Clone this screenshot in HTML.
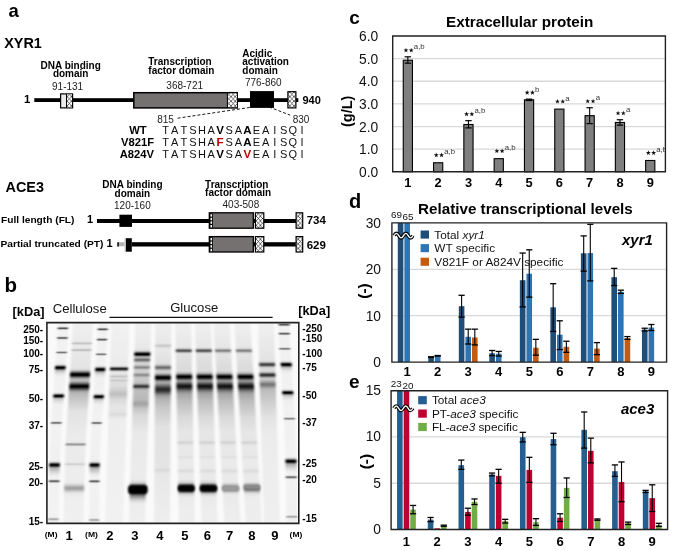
<!DOCTYPE html>
<html><head><meta charset="utf-8"><title>Figure</title>
<style>
html,body{margin:0;padding:0;background:#fff;}
body{width:685px;height:551px;overflow:hidden;}
svg{display:block;font-family:"Liberation Sans", sans-serif;will-change:transform;}
</style></head><body>
<svg width="685" height="551" viewBox="0 0 685 551">
<defs>
<clipPath id="cclip"><rect x="380" y="30" width="285" height="150"/></clipPath>
<clipPath id="gelclip"><rect x="46.9" y="322.6" width="251.9" height="200.8"/></clipPath>
<pattern id="hatch" width="4.2" height="4.6" patternUnits="userSpaceOnUse">
<rect width="4.2" height="4.6" fill="#fff"/>
<path d="M0 0L4.2 4.6M4.2 0L0 4.6" stroke="#1a1a1a" stroke-width="0.65"/>
</pattern>
<filter id="bx" x="-30%" y="0%" width="160%" height="100%"><feGaussianBlur stdDeviation="1.0 0.4"/></filter>
<filter id="b1" x="-50%" y="-100%" width="200%" height="300%"><feGaussianBlur stdDeviation="0.9"/></filter>
<filter id="b2" x="-50%" y="-100%" width="200%" height="300%"><feGaussianBlur stdDeviation="1.6"/></filter>
<filter id="b3" x="-50%" y="-100%" width="200%" height="300%"><feGaussianBlur stdDeviation="3"/></filter>
</defs>
<text x="8.5" y="17.2" font-size="18.5" font-weight="bold" font-style="normal" text-anchor="start" fill="#000" >a</text>
<text x="4.2" y="47.5" font-size="14.4" font-weight="bold" font-style="normal" text-anchor="start" fill="#000" >XYR1</text>
<text x="70.7" y="68.6" font-size="10" font-weight="bold" font-style="normal" text-anchor="middle" fill="#000" >DNA binding</text>
<text x="70.7" y="77.2" font-size="10" font-weight="bold" font-style="normal" text-anchor="middle" fill="#000" >domain</text>
<text x="67.6" y="89.8" font-size="10" font-weight="normal" font-style="normal" text-anchor="middle" fill="#222" >91-131</text>
<text x="148.3" y="64.9" font-size="10" font-weight="bold" font-style="normal" text-anchor="start" fill="#000" >Transcription</text>
<text x="148.3" y="73.5" font-size="10" font-weight="bold" font-style="normal" text-anchor="start" fill="#000" >factor domain</text>
<text x="184.7" y="88.5" font-size="10" font-weight="normal" font-style="normal" text-anchor="middle" fill="#222" >368-721</text>
<text x="242.3" y="56.5" font-size="10" font-weight="bold" font-style="normal" text-anchor="start" fill="#000" >Acidic</text>
<text x="242.3" y="65.1" font-size="10" font-weight="bold" font-style="normal" text-anchor="start" fill="#000" >activation</text>
<text x="242.3" y="73.6" font-size="10" font-weight="bold" font-style="normal" text-anchor="start" fill="#000" >domain</text>
<text x="263.3" y="86" font-size="10" font-weight="normal" font-style="normal" text-anchor="middle" fill="#222" >776-860</text>
<text x="24.0" y="103.0" font-size="11.4" font-weight="bold" font-style="normal" text-anchor="start" fill="#000" >1</text>
<rect x="34.3" y="98.2" width="264" height="3.8" fill="#000" stroke="none" stroke-width="0" />
<rect x="60.6" y="93.9" width="12" height="14" fill="#eaeaea" stroke="#000" stroke-width="1.2" />
<rect x="66.6" y="94.5" width="5.4" height="12.8" fill="url(#hatch)" stroke="none" stroke-width="0" />
<line x1="66.5" y1="93.9" x2="66.5" y2="107.9" stroke="#000" stroke-width="1" />
<rect x="133.8" y="92.7" width="103.4" height="15.2" fill="#757170" stroke="#000" stroke-width="1.5" />
<rect x="227.8" y="93.4" width="9.2" height="13.8" fill="url(#hatch)" stroke="none" stroke-width="0" />
<line x1="227.4" y1="92.7" x2="227.4" y2="107.9" stroke="#000" stroke-width="1" />
<rect x="250" y="91.1" width="24" height="16.8" fill="#000" stroke="none" stroke-width="0" />
<rect x="287.9" y="91.7" width="8" height="16.2" fill="url(#hatch)" stroke="#000" stroke-width="1.2" />
<text x="302.4" y="103.8" font-size="11" font-weight="bold" font-style="normal" text-anchor="start" fill="#000" >940</text>
<line x1="177.6" y1="118.2" x2="252.8" y2="107" stroke="#000" stroke-width="0.9" stroke-dasharray="3,2"/>
<line x1="269.1" y1="107" x2="290.2" y2="115.2" stroke="#000" stroke-width="0.9" stroke-dasharray="3,2"/>
<text x="165.5" y="123.4" font-size="10" font-weight="normal" font-style="normal" text-anchor="middle" fill="#222" >815</text>
<text x="301" y="123.4" font-size="10" font-weight="normal" font-style="normal" text-anchor="middle" fill="#222" >830</text>
<text x="138" y="134" font-size="11.2" font-weight="bold" font-style="normal" text-anchor="middle" fill="#000" >WT</text>
<text x="165.6" y="134" font-size="11" font-weight="normal" font-style="normal" text-anchor="middle" fill="#111" >T</text>
<text x="174.69" y="134" font-size="11" font-weight="normal" font-style="normal" text-anchor="middle" fill="#111" >A</text>
<text x="183.78" y="134" font-size="11" font-weight="normal" font-style="normal" text-anchor="middle" fill="#111" >T</text>
<text x="192.87" y="134" font-size="11" font-weight="normal" font-style="normal" text-anchor="middle" fill="#111" >S</text>
<text x="201.95999999999998" y="134" font-size="11" font-weight="normal" font-style="normal" text-anchor="middle" fill="#111" >H</text>
<text x="211.05" y="134" font-size="11" font-weight="normal" font-style="normal" text-anchor="middle" fill="#111" >A</text>
<text x="220.14" y="134" font-size="11.5" font-weight="bold" font-style="normal" text-anchor="middle" fill="#000" >V</text>
<text x="229.23" y="134" font-size="11" font-weight="normal" font-style="normal" text-anchor="middle" fill="#111" >S</text>
<text x="238.32" y="134" font-size="11" font-weight="normal" font-style="normal" text-anchor="middle" fill="#111" >A</text>
<text x="247.41" y="134" font-size="11.5" font-weight="bold" font-style="normal" text-anchor="middle" fill="#000" >A</text>
<text x="256.5" y="134" font-size="11" font-weight="normal" font-style="normal" text-anchor="middle" fill="#111" >E</text>
<text x="265.59" y="134" font-size="11" font-weight="normal" font-style="normal" text-anchor="middle" fill="#111" >A</text>
<text x="274.68" y="134" font-size="11" font-weight="normal" font-style="normal" text-anchor="middle" fill="#111" >I</text>
<text x="283.77" y="134" font-size="11" font-weight="normal" font-style="normal" text-anchor="middle" fill="#111" >S</text>
<text x="292.86" y="134" font-size="11" font-weight="normal" font-style="normal" text-anchor="middle" fill="#111" >Q</text>
<text x="301.95" y="134" font-size="11" font-weight="normal" font-style="normal" text-anchor="middle" fill="#111" >I</text>
<text x="154" y="145.9" font-size="11.2" font-weight="bold" font-style="normal" text-anchor="end" fill="#000" >V821F</text>
<text x="165.6" y="145.9" font-size="11" font-weight="normal" font-style="normal" text-anchor="middle" fill="#111" >T</text>
<text x="174.69" y="145.9" font-size="11" font-weight="normal" font-style="normal" text-anchor="middle" fill="#111" >A</text>
<text x="183.78" y="145.9" font-size="11" font-weight="normal" font-style="normal" text-anchor="middle" fill="#111" >T</text>
<text x="192.87" y="145.9" font-size="11" font-weight="normal" font-style="normal" text-anchor="middle" fill="#111" >S</text>
<text x="201.95999999999998" y="145.9" font-size="11" font-weight="normal" font-style="normal" text-anchor="middle" fill="#111" >H</text>
<text x="211.05" y="145.9" font-size="11" font-weight="normal" font-style="normal" text-anchor="middle" fill="#111" >A</text>
<text x="220.14" y="145.9" font-size="11.5" font-weight="bold" font-style="normal" text-anchor="middle" fill="#c00000" >F</text>
<text x="229.23" y="145.9" font-size="11" font-weight="normal" font-style="normal" text-anchor="middle" fill="#111" >S</text>
<text x="238.32" y="145.9" font-size="11" font-weight="normal" font-style="normal" text-anchor="middle" fill="#111" >A</text>
<text x="247.41" y="145.9" font-size="11.5" font-weight="bold" font-style="normal" text-anchor="middle" fill="#000" >A</text>
<text x="256.5" y="145.9" font-size="11" font-weight="normal" font-style="normal" text-anchor="middle" fill="#111" >E</text>
<text x="265.59" y="145.9" font-size="11" font-weight="normal" font-style="normal" text-anchor="middle" fill="#111" >A</text>
<text x="274.68" y="145.9" font-size="11" font-weight="normal" font-style="normal" text-anchor="middle" fill="#111" >I</text>
<text x="283.77" y="145.9" font-size="11" font-weight="normal" font-style="normal" text-anchor="middle" fill="#111" >S</text>
<text x="292.86" y="145.9" font-size="11" font-weight="normal" font-style="normal" text-anchor="middle" fill="#111" >Q</text>
<text x="301.95" y="145.9" font-size="11" font-weight="normal" font-style="normal" text-anchor="middle" fill="#111" >I</text>
<text x="154" y="157.6" font-size="11.2" font-weight="bold" font-style="normal" text-anchor="end" fill="#000" >A824V</text>
<text x="165.6" y="157.6" font-size="11" font-weight="normal" font-style="normal" text-anchor="middle" fill="#111" >T</text>
<text x="174.69" y="157.6" font-size="11" font-weight="normal" font-style="normal" text-anchor="middle" fill="#111" >A</text>
<text x="183.78" y="157.6" font-size="11" font-weight="normal" font-style="normal" text-anchor="middle" fill="#111" >T</text>
<text x="192.87" y="157.6" font-size="11" font-weight="normal" font-style="normal" text-anchor="middle" fill="#111" >S</text>
<text x="201.95999999999998" y="157.6" font-size="11" font-weight="normal" font-style="normal" text-anchor="middle" fill="#111" >H</text>
<text x="211.05" y="157.6" font-size="11" font-weight="normal" font-style="normal" text-anchor="middle" fill="#111" >A</text>
<text x="220.14" y="157.6" font-size="11.5" font-weight="bold" font-style="normal" text-anchor="middle" fill="#000" >V</text>
<text x="229.23" y="157.6" font-size="11" font-weight="normal" font-style="normal" text-anchor="middle" fill="#111" >S</text>
<text x="238.32" y="157.6" font-size="11" font-weight="normal" font-style="normal" text-anchor="middle" fill="#111" >A</text>
<text x="247.41" y="157.6" font-size="11.5" font-weight="bold" font-style="normal" text-anchor="middle" fill="#c00000" >V</text>
<text x="256.5" y="157.6" font-size="11" font-weight="normal" font-style="normal" text-anchor="middle" fill="#111" >E</text>
<text x="265.59" y="157.6" font-size="11" font-weight="normal" font-style="normal" text-anchor="middle" fill="#111" >A</text>
<text x="274.68" y="157.6" font-size="11" font-weight="normal" font-style="normal" text-anchor="middle" fill="#111" >I</text>
<text x="283.77" y="157.6" font-size="11" font-weight="normal" font-style="normal" text-anchor="middle" fill="#111" >S</text>
<text x="292.86" y="157.6" font-size="11" font-weight="normal" font-style="normal" text-anchor="middle" fill="#111" >Q</text>
<text x="301.95" y="157.6" font-size="11" font-weight="normal" font-style="normal" text-anchor="middle" fill="#111" >I</text>
<text x="5.5" y="192.0" font-size="14.4" font-weight="bold" font-style="normal" text-anchor="start" fill="#000" >ACE3</text>
<text x="132.4" y="188.4" font-size="10" font-weight="bold" font-style="normal" text-anchor="middle" fill="#000" >DNA binding</text>
<text x="132.4" y="197.2" font-size="10" font-weight="bold" font-style="normal" text-anchor="middle" fill="#000" >domain</text>
<text x="132.4" y="208.5" font-size="10" font-weight="normal" font-style="normal" text-anchor="middle" fill="#222" >120-160</text>
<text x="205.1" y="187.5" font-size="10" font-weight="bold" font-style="normal" text-anchor="start" fill="#000" >Transcription</text>
<text x="205.1" y="195.7" font-size="10" font-weight="bold" font-style="normal" text-anchor="start" fill="#000" >factor domain</text>
<text x="240.9" y="207.5" font-size="10" font-weight="normal" font-style="normal" text-anchor="middle" fill="#222" >403-508</text>
<text transform="translate(1.0,222.8) scale(1.05,1)" x="0" y="0" font-size="9.7" font-weight="bold" font-style="normal" text-anchor="start" fill="#000" >Full length (FL)</text>
<text transform="translate(0.5,247.2) scale(1.05,1)" x="0" y="0" font-size="9.7" font-weight="bold" font-style="normal" text-anchor="start" fill="#000" >Partial truncated (PT)</text>
<text x="87.0" y="223.0" font-size="11" font-weight="bold" font-style="normal" text-anchor="start" fill="#000" >1</text>
<text x="106.4" y="247.0" font-size="11" font-weight="bold" font-style="normal" text-anchor="start" fill="#000" >1</text>
<rect x="97" y="219" width="199" height="4" fill="#000" stroke="none" stroke-width="0" />
<rect x="119.4" y="214.7" width="12.6" height="12.2" fill="#000" stroke="none" stroke-width="0" />
<rect x="209.3" y="212.79999999999998" width="44" height="15.400000000000002" fill="#757170" stroke="#000" stroke-width="1.3" />
<rect x="209.8" y="213.39999999999998" width="3" height="14.200000000000001" fill="#000" stroke="none" stroke-width="0" />
<rect x="210.5" y="214.2" width="1.5" height="2.4" fill="#fff" stroke="none" stroke-width="0" />
<rect x="210.5" y="217.79999999999998" width="1.5" height="2.4" fill="#fff" stroke="none" stroke-width="0" />
<rect x="210.5" y="221.39999999999998" width="1.5" height="2.4" fill="#fff" stroke="none" stroke-width="0" />
<rect x="210.5" y="225.0" width="1.5" height="2.4" fill="#fff" stroke="none" stroke-width="0" />
<rect x="255.4" y="212.79999999999998" width="8.4" height="15.400000000000002" fill="url(#hatch)" stroke="#000" stroke-width="1.2" />
<rect x="296.1" y="212.79999999999998" width="6.6" height="15.400000000000002" fill="url(#hatch)" stroke="#000" stroke-width="1.2" />
<text x="306.7" y="223.7" font-size="11.5" font-weight="bold" font-style="normal" text-anchor="start" fill="#000" >734</text>
<rect x="131.8" y="242.2" width="164" height="4.3" fill="#000" stroke="none" stroke-width="0" />
<rect x="117.2" y="242.2" width="1.8" height="4.4" fill="#222" stroke="none" stroke-width="0" />
<rect x="119" y="242.2" width="5.5" height="4" fill="#b3b3b3" stroke="none" stroke-width="0" />
<rect x="124.5" y="238.2" width="1.4" height="13.5" fill="#c8c8c8" stroke="none" stroke-width="0" />
<rect x="125.9" y="238.2" width="5.9" height="13.5" fill="#000" stroke="none" stroke-width="0" />
<rect x="209.3" y="236.6" width="44" height="15.400000000000002" fill="#757170" stroke="#000" stroke-width="1.3" />
<rect x="209.8" y="237.2" width="3" height="14.200000000000001" fill="#000" stroke="none" stroke-width="0" />
<rect x="210.5" y="238.0" width="1.5" height="2.4" fill="#fff" stroke="none" stroke-width="0" />
<rect x="210.5" y="241.6" width="1.5" height="2.4" fill="#fff" stroke="none" stroke-width="0" />
<rect x="210.5" y="245.2" width="1.5" height="2.4" fill="#fff" stroke="none" stroke-width="0" />
<rect x="210.5" y="248.8" width="1.5" height="2.4" fill="#fff" stroke="none" stroke-width="0" />
<rect x="255.4" y="236.6" width="8.4" height="15.400000000000002" fill="url(#hatch)" stroke="#000" stroke-width="1.2" />
<rect x="296.1" y="236.6" width="6.6" height="15.400000000000002" fill="url(#hatch)" stroke="#000" stroke-width="1.2" />
<text x="306.7" y="248.5" font-size="11.5" font-weight="bold" font-style="normal" text-anchor="start" fill="#000" >629</text>
<defs><linearGradient id="gM1" gradientUnits="userSpaceOnUse" x1="0" y1="322" x2="0" y2="524"><stop offset="0.0000" stop-color="#f2f2f2"/><stop offset="0.0198" stop-color="#f0f0f0"/><stop offset="0.0223" stop-color="#e6e6e6"/><stop offset="0.0248" stop-color="#c8c8c8"/><stop offset="0.0297" stop-color="#606060"/><stop offset="0.0322" stop-color="#5a5a5a"/><stop offset="0.0347" stop-color="#878787"/><stop offset="0.0371" stop-color="#bfbfbf"/><stop offset="0.0396" stop-color="#e2e2e2"/><stop offset="0.0421" stop-color="#efefef"/><stop offset="0.0569" stop-color="#f2f2f2"/><stop offset="0.0668" stop-color="#f1f1f1"/><stop offset="0.0693" stop-color="#ececec"/><stop offset="0.0718" stop-color="#d9d9d9"/><stop offset="0.0743" stop-color="#b0b0b0"/><stop offset="0.0767" stop-color="#7b7b7b"/><stop offset="0.0792" stop-color="#616161"/><stop offset="0.0817" stop-color="#7b7b7b"/><stop offset="0.0842" stop-color="#b0b0b0"/><stop offset="0.0866" stop-color="#d9d9d9"/><stop offset="0.0891" stop-color="#ececec"/><stop offset="0.0941" stop-color="#f2f2f2"/><stop offset="0.1386" stop-color="#f2f2f2"/><stop offset="0.1411" stop-color="#efefef"/><stop offset="0.1436" stop-color="#e2e2e2"/><stop offset="0.1460" stop-color="#c1c1c1"/><stop offset="0.1485" stop-color="#919191"/><stop offset="0.1510" stop-color="#797979"/><stop offset="0.1535" stop-color="#919191"/><stop offset="0.1559" stop-color="#c1c1c1"/><stop offset="0.1584" stop-color="#e2e2e2"/><stop offset="0.1609" stop-color="#efefef"/><stop offset="0.1757" stop-color="#f2f2f2"/><stop offset="0.2030" stop-color="#f0f0f0"/><stop offset="0.2079" stop-color="#e6e6e6"/><stop offset="0.2104" stop-color="#d8d8d8"/><stop offset="0.2129" stop-color="#c0c0c0"/><stop offset="0.2153" stop-color="#9d9d9d"/><stop offset="0.2203" stop-color="#404040"/><stop offset="0.2228" stop-color="#181818"/><stop offset="0.2252" stop-color="#020202"/><stop offset="0.2277" stop-color="#040404"/><stop offset="0.2302" stop-color="#1d1d1d"/><stop offset="0.2376" stop-color="#8f8f8f"/><stop offset="0.2401" stop-color="#aaaaaa"/><stop offset="0.2426" stop-color="#bcbcbc"/><stop offset="0.2475" stop-color="#d1d1d1"/><stop offset="0.2599" stop-color="#e8e8e8"/><stop offset="0.2723" stop-color="#f1f1f1"/><stop offset="0.3441" stop-color="#f1f1f1"/><stop offset="0.3490" stop-color="#e7e7e7"/><stop offset="0.3515" stop-color="#d9d9d9"/><stop offset="0.3540" stop-color="#bfbfbf"/><stop offset="0.3564" stop-color="#999999"/><stop offset="0.3614" stop-color="#353535"/><stop offset="0.3639" stop-color="#0e0e0e"/><stop offset="0.3663" stop-color="#000000"/><stop offset="0.3688" stop-color="#0e0e0e"/><stop offset="0.3713" stop-color="#323232"/><stop offset="0.3762" stop-color="#8a8a8a"/><stop offset="0.3787" stop-color="#ababab"/><stop offset="0.3812" stop-color="#c0c0c0"/><stop offset="0.3837" stop-color="#cdcdcd"/><stop offset="0.3936" stop-color="#e1e1e1"/><stop offset="0.4084" stop-color="#f0f0f0"/><stop offset="0.4876" stop-color="#f1f1f1"/><stop offset="0.4901" stop-color="#ebebeb"/><stop offset="0.4926" stop-color="#d6d6d6"/><stop offset="0.4975" stop-color="#7d7d7d"/><stop offset="0.5000" stop-color="#6e6e6e"/><stop offset="0.5025" stop-color="#8e8e8e"/><stop offset="0.5050" stop-color="#bfbfbf"/><stop offset="0.5074" stop-color="#e0e0e0"/><stop offset="0.5099" stop-color="#eeeeee"/><stop offset="0.5149" stop-color="#f2f2f2"/><stop offset="0.6832" stop-color="#f0f0f0"/><stop offset="0.6881" stop-color="#e7e7e7"/><stop offset="0.6906" stop-color="#dadada"/><stop offset="0.6931" stop-color="#c6c6c6"/><stop offset="0.6955" stop-color="#a8a8a8"/><stop offset="0.7030" stop-color="#292929"/><stop offset="0.7054" stop-color="#0b0b0b"/><stop offset="0.7079" stop-color="#000000"/><stop offset="0.7104" stop-color="#0a0a0a"/><stop offset="0.7129" stop-color="#262626"/><stop offset="0.7178" stop-color="#6e6e6e"/><stop offset="0.7203" stop-color="#8d8d8d"/><stop offset="0.7228" stop-color="#a3a3a3"/><stop offset="0.7252" stop-color="#b1b1b1"/><stop offset="0.7327" stop-color="#c3c3c3"/><stop offset="0.7525" stop-color="#e6e6e6"/><stop offset="0.7673" stop-color="#f1f1f1"/><stop offset="0.7748" stop-color="#f1f1f1"/><stop offset="0.7772" stop-color="#ebebeb"/><stop offset="0.7797" stop-color="#dadada"/><stop offset="0.7822" stop-color="#b7b7b7"/><stop offset="0.7847" stop-color="#878787"/><stop offset="0.7871" stop-color="#656565"/><stop offset="0.7896" stop-color="#696969"/><stop offset="0.7921" stop-color="#909090"/><stop offset="0.7946" stop-color="#bfbfbf"/><stop offset="0.7970" stop-color="#dfdfdf"/><stop offset="0.7995" stop-color="#ededed"/><stop offset="0.8069" stop-color="#f2f2f2"/><stop offset="0.9629" stop-color="#f2f2f2"/><stop offset="0.9653" stop-color="#efefef"/><stop offset="0.9678" stop-color="#e6e6e6"/><stop offset="0.9703" stop-color="#d5d5d5"/><stop offset="0.9728" stop-color="#bdbdbd"/><stop offset="0.9752" stop-color="#acacac"/><stop offset="0.9777" stop-color="#aeaeae"/><stop offset="0.9827" stop-color="#d9d9d9"/><stop offset="0.9851" stop-color="#e9e9e9"/><stop offset="0.9901" stop-color="#f2f2f2"/><stop offset="1.0000" stop-color="#f2f2f2"/></linearGradient><linearGradient id="gM2" gradientUnits="userSpaceOnUse" x1="0" y1="322" x2="0" y2="524"><stop offset="0.0000" stop-color="#f2f2f2"/><stop offset="0.0248" stop-color="#f0f0f0"/><stop offset="0.0272" stop-color="#e6e6e6"/><stop offset="0.0297" stop-color="#c8c8c8"/><stop offset="0.0347" stop-color="#606060"/><stop offset="0.0371" stop-color="#5a5a5a"/><stop offset="0.0396" stop-color="#878787"/><stop offset="0.0421" stop-color="#bfbfbf"/><stop offset="0.0446" stop-color="#e2e2e2"/><stop offset="0.0470" stop-color="#efefef"/><stop offset="0.0619" stop-color="#f2f2f2"/><stop offset="0.0743" stop-color="#f2f2f2"/><stop offset="0.0767" stop-color="#eeeeee"/><stop offset="0.0792" stop-color="#dfdfdf"/><stop offset="0.0817" stop-color="#bababa"/><stop offset="0.0842" stop-color="#858585"/><stop offset="0.0866" stop-color="#626262"/><stop offset="0.0891" stop-color="#727272"/><stop offset="0.0941" stop-color="#d3d3d3"/><stop offset="0.0965" stop-color="#eaeaea"/><stop offset="0.0990" stop-color="#f1f1f1"/><stop offset="0.1485" stop-color="#f1f1f1"/><stop offset="0.1510" stop-color="#ececec"/><stop offset="0.1535" stop-color="#d8d8d8"/><stop offset="0.1584" stop-color="#838383"/><stop offset="0.1609" stop-color="#7d7d7d"/><stop offset="0.1634" stop-color="#a4a4a4"/><stop offset="0.1658" stop-color="#d1d1d1"/><stop offset="0.1683" stop-color="#e9e9e9"/><stop offset="0.1708" stop-color="#f1f1f1"/><stop offset="0.2104" stop-color="#f1f1f1"/><stop offset="0.2153" stop-color="#eaeaea"/><stop offset="0.2178" stop-color="#e1e1e1"/><stop offset="0.2203" stop-color="#cfcfcf"/><stop offset="0.2228" stop-color="#b2b2b2"/><stop offset="0.2252" stop-color="#8b8b8b"/><stop offset="0.2302" stop-color="#2e2e2e"/><stop offset="0.2327" stop-color="#0c0c0c"/><stop offset="0.2351" stop-color="#000000"/><stop offset="0.2376" stop-color="#0c0c0c"/><stop offset="0.2401" stop-color="#2a2a2a"/><stop offset="0.2450" stop-color="#7a7a7a"/><stop offset="0.2475" stop-color="#9b9b9b"/><stop offset="0.2500" stop-color="#b3b3b3"/><stop offset="0.2550" stop-color="#cecece"/><stop offset="0.2649" stop-color="#e5e5e5"/><stop offset="0.2772" stop-color="#f0f0f0"/><stop offset="0.3465" stop-color="#f1f1f1"/><stop offset="0.3515" stop-color="#eaeaea"/><stop offset="0.3540" stop-color="#dfdfdf"/><stop offset="0.3564" stop-color="#cbcbcb"/><stop offset="0.3589" stop-color="#a9a9a9"/><stop offset="0.3663" stop-color="#1b1b1b"/><stop offset="0.3688" stop-color="#020202"/><stop offset="0.3713" stop-color="#050505"/><stop offset="0.3738" stop-color="#212121"/><stop offset="0.3787" stop-color="#797979"/><stop offset="0.3812" stop-color="#9e9e9e"/><stop offset="0.3837" stop-color="#b9b9b9"/><stop offset="0.3861" stop-color="#c9c9c9"/><stop offset="0.3936" stop-color="#dddddd"/><stop offset="0.4084" stop-color="#efefef"/><stop offset="0.4530" stop-color="#f2f2f2"/><stop offset="0.4876" stop-color="#f1f1f1"/><stop offset="0.4901" stop-color="#ededed"/><stop offset="0.4926" stop-color="#dcdcdc"/><stop offset="0.4950" stop-color="#b5b5b5"/><stop offset="0.4975" stop-color="#858585"/><stop offset="0.5000" stop-color="#6d6d6d"/><stop offset="0.5025" stop-color="#858585"/><stop offset="0.5050" stop-color="#b5b5b5"/><stop offset="0.5074" stop-color="#dcdcdc"/><stop offset="0.5099" stop-color="#ededed"/><stop offset="0.5173" stop-color="#f2f2f2"/><stop offset="0.6832" stop-color="#f0f0f0"/><stop offset="0.6881" stop-color="#e8e8e8"/><stop offset="0.6906" stop-color="#dddddd"/><stop offset="0.6931" stop-color="#cbcbcb"/><stop offset="0.6955" stop-color="#aeaeae"/><stop offset="0.6980" stop-color="#888888"/><stop offset="0.7030" stop-color="#303030"/><stop offset="0.7054" stop-color="#0f0f0f"/><stop offset="0.7079" stop-color="#000000"/><stop offset="0.7104" stop-color="#070707"/><stop offset="0.7129" stop-color="#1f1f1f"/><stop offset="0.7178" stop-color="#676767"/><stop offset="0.7203" stop-color="#878787"/><stop offset="0.7228" stop-color="#9f9f9f"/><stop offset="0.7277" stop-color="#b8b8b8"/><stop offset="0.7525" stop-color="#e6e6e6"/><stop offset="0.7673" stop-color="#f1f1f1"/><stop offset="0.7748" stop-color="#f1f1f1"/><stop offset="0.7772" stop-color="#ededed"/><stop offset="0.7797" stop-color="#dfdfdf"/><stop offset="0.7822" stop-color="#bfbfbf"/><stop offset="0.7847" stop-color="#909090"/><stop offset="0.7871" stop-color="#696969"/><stop offset="0.7896" stop-color="#656565"/><stop offset="0.7921" stop-color="#878787"/><stop offset="0.7946" stop-color="#b7b7b7"/><stop offset="0.7970" stop-color="#dadada"/><stop offset="0.7995" stop-color="#ebebeb"/><stop offset="0.8045" stop-color="#f2f2f2"/><stop offset="0.9678" stop-color="#f1f1f1"/><stop offset="0.9703" stop-color="#ececec"/><stop offset="0.9728" stop-color="#e0e0e0"/><stop offset="0.9777" stop-color="#b4b4b4"/><stop offset="0.9802" stop-color="#aaaaaa"/><stop offset="0.9827" stop-color="#b4b4b4"/><stop offset="0.9876" stop-color="#e0e0e0"/><stop offset="0.9901" stop-color="#ececec"/><stop offset="0.9950" stop-color="#f2f2f2"/><stop offset="1.0000" stop-color="#f2f2f2"/></linearGradient><linearGradient id="gM3" gradientUnits="userSpaceOnUse" x1="0" y1="322" x2="0" y2="524"><stop offset="0.0000" stop-color="#f2f2f2"/><stop offset="0.0025" stop-color="#efefef"/><stop offset="0.0050" stop-color="#e2e2e2"/><stop offset="0.0074" stop-color="#bfbfbf"/><stop offset="0.0099" stop-color="#878787"/><stop offset="0.0124" stop-color="#5a5a5a"/><stop offset="0.0149" stop-color="#606060"/><stop offset="0.0198" stop-color="#c8c8c8"/><stop offset="0.0223" stop-color="#e6e6e6"/><stop offset="0.0248" stop-color="#f0f0f0"/><stop offset="0.0446" stop-color="#f2f2f2"/><stop offset="0.0470" stop-color="#efefef"/><stop offset="0.0495" stop-color="#e3e3e3"/><stop offset="0.0520" stop-color="#c3c3c3"/><stop offset="0.0545" stop-color="#8f8f8f"/><stop offset="0.0569" stop-color="#656565"/><stop offset="0.0594" stop-color="#6b6b6b"/><stop offset="0.0644" stop-color="#cccccc"/><stop offset="0.0668" stop-color="#e7e7e7"/><stop offset="0.0693" stop-color="#f0f0f0"/><stop offset="0.1213" stop-color="#f1f1f1"/><stop offset="0.1238" stop-color="#ececec"/><stop offset="0.1262" stop-color="#d8d8d8"/><stop offset="0.1312" stop-color="#838383"/><stop offset="0.1337" stop-color="#7d7d7d"/><stop offset="0.1361" stop-color="#a4a4a4"/><stop offset="0.1386" stop-color="#d1d1d1"/><stop offset="0.1411" stop-color="#e9e9e9"/><stop offset="0.1436" stop-color="#f1f1f1"/><stop offset="0.1881" stop-color="#f0f0f0"/><stop offset="0.1931" stop-color="#e3e3e3"/><stop offset="0.1955" stop-color="#d3d3d3"/><stop offset="0.1980" stop-color="#b9b9b9"/><stop offset="0.2005" stop-color="#939393"/><stop offset="0.2054" stop-color="#363636"/><stop offset="0.2079" stop-color="#111111"/><stop offset="0.2104" stop-color="#000000"/><stop offset="0.2129" stop-color="#080808"/><stop offset="0.2153" stop-color="#232323"/><stop offset="0.2203" stop-color="#727272"/><stop offset="0.2228" stop-color="#959595"/><stop offset="0.2252" stop-color="#afafaf"/><stop offset="0.2277" stop-color="#c1c1c1"/><stop offset="0.2327" stop-color="#d5d5d5"/><stop offset="0.2426" stop-color="#e8e8e8"/><stop offset="0.2550" stop-color="#f1f1f1"/><stop offset="0.3267" stop-color="#f1f1f1"/><stop offset="0.3317" stop-color="#eaeaea"/><stop offset="0.3342" stop-color="#dfdfdf"/><stop offset="0.3366" stop-color="#cbcbcb"/><stop offset="0.3391" stop-color="#a9a9a9"/><stop offset="0.3465" stop-color="#1b1b1b"/><stop offset="0.3490" stop-color="#020202"/><stop offset="0.3515" stop-color="#050505"/><stop offset="0.3540" stop-color="#212121"/><stop offset="0.3589" stop-color="#797979"/><stop offset="0.3614" stop-color="#9e9e9e"/><stop offset="0.3639" stop-color="#b9b9b9"/><stop offset="0.3663" stop-color="#c9c9c9"/><stop offset="0.3738" stop-color="#dddddd"/><stop offset="0.3886" stop-color="#efefef"/><stop offset="0.4332" stop-color="#f2f2f2"/><stop offset="0.4678" stop-color="#f0f0f0"/><stop offset="0.4703" stop-color="#e7e7e7"/><stop offset="0.4728" stop-color="#cfcfcf"/><stop offset="0.4752" stop-color="#a8a8a8"/><stop offset="0.4777" stop-color="#898989"/><stop offset="0.4802" stop-color="#8d8d8d"/><stop offset="0.4851" stop-color="#d5d5d5"/><stop offset="0.4876" stop-color="#eaeaea"/><stop offset="0.4901" stop-color="#f1f1f1"/><stop offset="0.6634" stop-color="#f1f1f1"/><stop offset="0.6683" stop-color="#ebebeb"/><stop offset="0.6708" stop-color="#e2e2e2"/><stop offset="0.6733" stop-color="#d3d3d3"/><stop offset="0.6757" stop-color="#bababa"/><stop offset="0.6782" stop-color="#989898"/><stop offset="0.6832" stop-color="#414141"/><stop offset="0.6856" stop-color="#1b1b1b"/><stop offset="0.6881" stop-color="#040404"/><stop offset="0.6906" stop-color="#020202"/><stop offset="0.6931" stop-color="#131313"/><stop offset="0.7005" stop-color="#7a7a7a"/><stop offset="0.7030" stop-color="#959595"/><stop offset="0.7054" stop-color="#a8a8a8"/><stop offset="0.7079" stop-color="#b5b5b5"/><stop offset="0.7277" stop-color="#dfdfdf"/><stop offset="0.7426" stop-color="#efefef"/><stop offset="0.7550" stop-color="#f1f1f1"/><stop offset="0.7574" stop-color="#ececec"/><stop offset="0.7599" stop-color="#dcdcdc"/><stop offset="0.7624" stop-color="#bcbcbc"/><stop offset="0.7649" stop-color="#909090"/><stop offset="0.7673" stop-color="#707070"/><stop offset="0.7698" stop-color="#747474"/><stop offset="0.7723" stop-color="#999999"/><stop offset="0.7748" stop-color="#c4c4c4"/><stop offset="0.7772" stop-color="#e0e0e0"/><stop offset="0.7797" stop-color="#ededed"/><stop offset="0.7871" stop-color="#f2f2f2"/><stop offset="0.9530" stop-color="#f0f0f0"/><stop offset="0.9554" stop-color="#e9e9e9"/><stop offset="0.9579" stop-color="#d9d9d9"/><stop offset="0.9629" stop-color="#aeaeae"/><stop offset="0.9653" stop-color="#acacac"/><stop offset="0.9678" stop-color="#bdbdbd"/><stop offset="0.9703" stop-color="#d5d5d5"/><stop offset="0.9728" stop-color="#e6e6e6"/><stop offset="0.9752" stop-color="#efefef"/><stop offset="0.9901" stop-color="#f2f2f2"/><stop offset="1.0000" stop-color="#f2f2f2"/></linearGradient><linearGradient id="g1" gradientUnits="userSpaceOnUse" x1="0" y1="322" x2="0" y2="524"><stop offset="0.0000" stop-color="#f0f0f0"/><stop offset="0.0941" stop-color="#eaeaea"/><stop offset="0.0990" stop-color="#dfdfdf"/><stop offset="0.1040" stop-color="#c9c9c9"/><stop offset="0.1064" stop-color="#c5c5c5"/><stop offset="0.1114" stop-color="#d8d8d8"/><stop offset="0.1163" stop-color="#e8e8e8"/><stop offset="0.1262" stop-color="#e9e9e9"/><stop offset="0.1312" stop-color="#e1e1e1"/><stop offset="0.1361" stop-color="#c8c8c8"/><stop offset="0.1386" stop-color="#c0c0c0"/><stop offset="0.1411" stop-color="#c3c3c3"/><stop offset="0.1460" stop-color="#dddddd"/><stop offset="0.1510" stop-color="#e8e8e8"/><stop offset="0.2277" stop-color="#e4e4e4"/><stop offset="0.2351" stop-color="#d6d6d6"/><stop offset="0.2376" stop-color="#cccccc"/><stop offset="0.2426" stop-color="#a8a8a8"/><stop offset="0.2475" stop-color="#717171"/><stop offset="0.2525" stop-color="#343434"/><stop offset="0.2550" stop-color="#1a1a1a"/><stop offset="0.2574" stop-color="#080808"/><stop offset="0.2599" stop-color="#000000"/><stop offset="0.2624" stop-color="#040404"/><stop offset="0.2649" stop-color="#111111"/><stop offset="0.2673" stop-color="#272727"/><stop offset="0.2748" stop-color="#7a7a7a"/><stop offset="0.2772" stop-color="#929292"/><stop offset="0.2822" stop-color="#b1b1b1"/><stop offset="0.2871" stop-color="#bcbcbc"/><stop offset="0.2921" stop-color="#b5b5b5"/><stop offset="0.2970" stop-color="#9e9e9e"/><stop offset="0.3020" stop-color="#797979"/><stop offset="0.3119" stop-color="#212121"/><stop offset="0.3144" stop-color="#111111"/><stop offset="0.3168" stop-color="#080808"/><stop offset="0.3193" stop-color="#060606"/><stop offset="0.3218" stop-color="#0b0b0b"/><stop offset="0.3243" stop-color="#161616"/><stop offset="0.3317" stop-color="#4f4f4f"/><stop offset="0.3391" stop-color="#878787"/><stop offset="0.3441" stop-color="#a1a1a1"/><stop offset="0.3515" stop-color="#b4b4b4"/><stop offset="0.3663" stop-color="#bfbfbf"/><stop offset="0.4406" stop-color="#e2e2e2"/><stop offset="0.5668" stop-color="#ebebeb"/><stop offset="0.5916" stop-color="#eaeaea"/><stop offset="0.5941" stop-color="#e7e7e7"/><stop offset="0.5965" stop-color="#dedede"/><stop offset="0.5990" stop-color="#cdcdcd"/><stop offset="0.6040" stop-color="#a0a0a0"/><stop offset="0.6064" stop-color="#9a9a9a"/><stop offset="0.6089" stop-color="#a7a7a7"/><stop offset="0.6139" stop-color="#d5d5d5"/><stop offset="0.6163" stop-color="#e3e3e3"/><stop offset="0.6213" stop-color="#ebebeb"/><stop offset="0.6931" stop-color="#ebebeb"/><stop offset="0.6980" stop-color="#e1e1e1"/><stop offset="0.7030" stop-color="#d1d1d1"/><stop offset="0.7054" stop-color="#d2d2d2"/><stop offset="0.7129" stop-color="#e9e9e9"/><stop offset="0.7252" stop-color="#ededed"/><stop offset="0.7896" stop-color="#ececec"/><stop offset="0.7995" stop-color="#e3e3e3"/><stop offset="0.8094" stop-color="#c6c6c6"/><stop offset="0.8193" stop-color="#a5a5a5"/><stop offset="0.8243" stop-color="#a3a3a3"/><stop offset="0.8292" stop-color="#acacac"/><stop offset="0.8416" stop-color="#d9d9d9"/><stop offset="0.8515" stop-color="#eaeaea"/><stop offset="0.8762" stop-color="#efefef"/><stop offset="1.0000" stop-color="#f0f0f0"/></linearGradient><linearGradient id="g2" gradientUnits="userSpaceOnUse" x1="0" y1="322" x2="0" y2="524"><stop offset="0.0000" stop-color="#f2f2f2"/><stop offset="0.2104" stop-color="#ebebeb"/><stop offset="0.2153" stop-color="#e5e5e5"/><stop offset="0.2178" stop-color="#dbdbdb"/><stop offset="0.2203" stop-color="#c7c7c7"/><stop offset="0.2228" stop-color="#a6a6a6"/><stop offset="0.2277" stop-color="#4e4e4e"/><stop offset="0.2302" stop-color="#2c2c2c"/><stop offset="0.2327" stop-color="#242424"/><stop offset="0.2351" stop-color="#373737"/><stop offset="0.2426" stop-color="#b4b4b4"/><stop offset="0.2450" stop-color="#cecece"/><stop offset="0.2475" stop-color="#dddddd"/><stop offset="0.2500" stop-color="#e5e5e5"/><stop offset="0.2574" stop-color="#e6e6e6"/><stop offset="0.2624" stop-color="#dcdcdc"/><stop offset="0.2673" stop-color="#cacaca"/><stop offset="0.2698" stop-color="#c7c7c7"/><stop offset="0.2772" stop-color="#dddddd"/><stop offset="0.2822" stop-color="#dcdcdc"/><stop offset="0.2896" stop-color="#cacaca"/><stop offset="0.2946" stop-color="#d3d3d3"/><stop offset="0.2995" stop-color="#dedede"/><stop offset="0.3144" stop-color="#dddddd"/><stop offset="0.3366" stop-color="#d0d0d0"/><stop offset="0.3515" stop-color="#c1c1c1"/><stop offset="0.3589" stop-color="#c1c1c1"/><stop offset="0.3837" stop-color="#dadada"/><stop offset="0.4183" stop-color="#e5e5e5"/><stop offset="0.4431" stop-color="#e4e4e4"/><stop offset="0.4579" stop-color="#dcdcdc"/><stop offset="0.4827" stop-color="#ededed"/><stop offset="1.0000" stop-color="#f2f2f2"/></linearGradient><linearGradient id="g3" gradientUnits="userSpaceOnUse" x1="0" y1="322" x2="0" y2="524"><stop offset="0.0000" stop-color="#f0f0f0"/><stop offset="0.1287" stop-color="#e8e8e8"/><stop offset="0.1386" stop-color="#dfdfdf"/><stop offset="0.1411" stop-color="#d6d6d6"/><stop offset="0.1436" stop-color="#c6c6c6"/><stop offset="0.1460" stop-color="#adadad"/><stop offset="0.1485" stop-color="#8b8b8b"/><stop offset="0.1535" stop-color="#383838"/><stop offset="0.1559" stop-color="#151515"/><stop offset="0.1584" stop-color="#020202"/><stop offset="0.1609" stop-color="#040404"/><stop offset="0.1634" stop-color="#1a1a1a"/><stop offset="0.1708" stop-color="#8c8c8c"/><stop offset="0.1733" stop-color="#a4a4a4"/><stop offset="0.1757" stop-color="#adadad"/><stop offset="0.1782" stop-color="#a7a7a7"/><stop offset="0.1832" stop-color="#818181"/><stop offset="0.1856" stop-color="#727272"/><stop offset="0.1881" stop-color="#6e6e6e"/><stop offset="0.1906" stop-color="#777777"/><stop offset="0.1980" stop-color="#b6b6b6"/><stop offset="0.2005" stop-color="#c6c6c6"/><stop offset="0.2054" stop-color="#d3d3d3"/><stop offset="0.2104" stop-color="#d0d0d0"/><stop offset="0.2129" stop-color="#c9c9c9"/><stop offset="0.2228" stop-color="#8e8e8e"/><stop offset="0.2252" stop-color="#8a8a8a"/><stop offset="0.2277" stop-color="#919191"/><stop offset="0.2351" stop-color="#bfbfbf"/><stop offset="0.2401" stop-color="#cdcdcd"/><stop offset="0.2450" stop-color="#cfcfcf"/><stop offset="0.2500" stop-color="#c6c6c6"/><stop offset="0.2550" stop-color="#afafaf"/><stop offset="0.2599" stop-color="#959595"/><stop offset="0.2624" stop-color="#909090"/><stop offset="0.2649" stop-color="#949494"/><stop offset="0.2748" stop-color="#c2c2c2"/><stop offset="0.2797" stop-color="#c9c9c9"/><stop offset="0.2970" stop-color="#c5c5c5"/><stop offset="0.3020" stop-color="#bcbcbc"/><stop offset="0.3069" stop-color="#9f9f9f"/><stop offset="0.3144" stop-color="#515151"/><stop offset="0.3168" stop-color="#3f3f3f"/><stop offset="0.3193" stop-color="#3b3b3b"/><stop offset="0.3218" stop-color="#454545"/><stop offset="0.3243" stop-color="#5a5a5a"/><stop offset="0.3292" stop-color="#8e8e8e"/><stop offset="0.3317" stop-color="#a3a3a3"/><stop offset="0.3366" stop-color="#b8b8b8"/><stop offset="0.3441" stop-color="#bebebe"/><stop offset="0.3837" stop-color="#b8b8b8"/><stop offset="0.4035" stop-color="#a3a3a3"/><stop offset="0.4134" stop-color="#adadad"/><stop offset="0.4282" stop-color="#c4c4c4"/><stop offset="0.4629" stop-color="#d9d9d9"/><stop offset="0.5495" stop-color="#e9e9e9"/><stop offset="0.7772" stop-color="#ebebeb"/><stop offset="0.7871" stop-color="#e1e1e1"/><stop offset="0.7946" stop-color="#cdcdcd"/><stop offset="0.7995" stop-color="#b6b6b6"/><stop offset="0.8069" stop-color="#828282"/><stop offset="0.8168" stop-color="#2f2f2f"/><stop offset="0.8218" stop-color="#101010"/><stop offset="0.8267" stop-color="#010101"/><stop offset="0.8317" stop-color="#040404"/><stop offset="0.8391" stop-color="#232323"/><stop offset="0.8490" stop-color="#575757"/><stop offset="0.8787" stop-color="#c8c8c8"/><stop offset="0.8886" stop-color="#dfdfdf"/><stop offset="0.9010" stop-color="#ececec"/><stop offset="1.0000" stop-color="#f0f0f0"/></linearGradient><linearGradient id="g4" gradientUnits="userSpaceOnUse" x1="0" y1="322" x2="0" y2="524"><stop offset="0.0000" stop-color="#eeeeee"/><stop offset="0.1040" stop-color="#e8e8e8"/><stop offset="0.1114" stop-color="#d7d7d7"/><stop offset="0.1163" stop-color="#cacaca"/><stop offset="0.1188" stop-color="#c9c9c9"/><stop offset="0.1287" stop-color="#e3e3e3"/><stop offset="0.1386" stop-color="#e8e8e8"/><stop offset="0.2030" stop-color="#dfdfdf"/><stop offset="0.2079" stop-color="#d7d7d7"/><stop offset="0.2129" stop-color="#c1c1c1"/><stop offset="0.2178" stop-color="#9b9b9b"/><stop offset="0.2228" stop-color="#767676"/><stop offset="0.2252" stop-color="#6f6f6f"/><stop offset="0.2277" stop-color="#727272"/><stop offset="0.2327" stop-color="#919191"/><stop offset="0.2376" stop-color="#b8b8b8"/><stop offset="0.2426" stop-color="#cdcdcd"/><stop offset="0.2475" stop-color="#cfcfcf"/><stop offset="0.2525" stop-color="#c2c2c2"/><stop offset="0.2574" stop-color="#a5a5a5"/><stop offset="0.2624" stop-color="#747474"/><stop offset="0.2698" stop-color="#1f1f1f"/><stop offset="0.2723" stop-color="#0b0b0b"/><stop offset="0.2748" stop-color="#010101"/><stop offset="0.2772" stop-color="#020202"/><stop offset="0.2797" stop-color="#0e0e0e"/><stop offset="0.2822" stop-color="#222222"/><stop offset="0.2896" stop-color="#707070"/><stop offset="0.2946" stop-color="#949494"/><stop offset="0.2995" stop-color="#a1a1a1"/><stop offset="0.3045" stop-color="#9c9c9c"/><stop offset="0.3119" stop-color="#808080"/><stop offset="0.3243" stop-color="#414141"/><stop offset="0.3292" stop-color="#303030"/><stop offset="0.3342" stop-color="#2a2a2a"/><stop offset="0.3391" stop-color="#313131"/><stop offset="0.3465" stop-color="#4b4b4b"/><stop offset="0.3589" stop-color="#858585"/><stop offset="0.3688" stop-color="#a3a3a3"/><stop offset="0.3837" stop-color="#b4b4b4"/><stop offset="0.4233" stop-color="#c7c7c7"/><stop offset="0.5173" stop-color="#e1e1e1"/><stop offset="0.7203" stop-color="#e4e4e4"/><stop offset="0.7327" stop-color="#d9d9d9"/><stop offset="0.7525" stop-color="#e7e7e7"/><stop offset="1.0000" stop-color="#eeeeee"/></linearGradient><linearGradient id="g5" gradientUnits="userSpaceOnUse" x1="0" y1="322" x2="0" y2="524"><stop offset="0.0000" stop-color="#f0f0f0"/><stop offset="0.1213" stop-color="#e7e7e7"/><stop offset="0.1262" stop-color="#e0e0e0"/><stop offset="0.1287" stop-color="#d6d6d6"/><stop offset="0.1312" stop-color="#c5c5c5"/><stop offset="0.1337" stop-color="#aaaaaa"/><stop offset="0.1386" stop-color="#6b6b6b"/><stop offset="0.1411" stop-color="#595959"/><stop offset="0.1436" stop-color="#5b5b5b"/><stop offset="0.1460" stop-color="#707070"/><stop offset="0.1510" stop-color="#aeaeae"/><stop offset="0.1535" stop-color="#c7c7c7"/><stop offset="0.1559" stop-color="#d6d6d6"/><stop offset="0.1609" stop-color="#e2e2e2"/><stop offset="0.2401" stop-color="#dadada"/><stop offset="0.2475" stop-color="#cdcdcd"/><stop offset="0.2525" stop-color="#b4b4b4"/><stop offset="0.2574" stop-color="#868686"/><stop offset="0.2649" stop-color="#2b2b2b"/><stop offset="0.2673" stop-color="#131313"/><stop offset="0.2698" stop-color="#040404"/><stop offset="0.2723" stop-color="#000000"/><stop offset="0.2748" stop-color="#080808"/><stop offset="0.2772" stop-color="#1a1a1a"/><stop offset="0.2847" stop-color="#666666"/><stop offset="0.2871" stop-color="#7a7a7a"/><stop offset="0.2896" stop-color="#878787"/><stop offset="0.2921" stop-color="#8c8c8c"/><stop offset="0.2946" stop-color="#8a8a8a"/><stop offset="0.2995" stop-color="#757575"/><stop offset="0.3119" stop-color="#272727"/><stop offset="0.3168" stop-color="#171717"/><stop offset="0.3218" stop-color="#191919"/><stop offset="0.3267" stop-color="#2a2a2a"/><stop offset="0.3391" stop-color="#6f6f6f"/><stop offset="0.3490" stop-color="#949494"/><stop offset="0.3589" stop-color="#a7a7a7"/><stop offset="0.3861" stop-color="#b9b9b9"/><stop offset="0.4728" stop-color="#dadada"/><stop offset="0.5470" stop-color="#e6e6e6"/><stop offset="0.5842" stop-color="#e5e5e5"/><stop offset="0.5965" stop-color="#d3d3d3"/><stop offset="0.6040" stop-color="#dddddd"/><stop offset="0.6139" stop-color="#e8e8e8"/><stop offset="0.6584" stop-color="#e8e8e8"/><stop offset="0.6683" stop-color="#e0e0e0"/><stop offset="0.6832" stop-color="#eaeaea"/><stop offset="0.7228" stop-color="#e9e9e9"/><stop offset="0.7376" stop-color="#dbdbdb"/><stop offset="0.7550" stop-color="#eaeaea"/><stop offset="0.7797" stop-color="#e8e8e8"/><stop offset="0.7896" stop-color="#d9d9d9"/><stop offset="0.7946" stop-color="#c7c7c7"/><stop offset="0.7995" stop-color="#aaaaaa"/><stop offset="0.8069" stop-color="#6b6b6b"/><stop offset="0.8144" stop-color="#272727"/><stop offset="0.8193" stop-color="#080808"/><stop offset="0.8218" stop-color="#010101"/><stop offset="0.8267" stop-color="#060606"/><stop offset="0.8317" stop-color="#232323"/><stop offset="0.8441" stop-color="#939393"/><stop offset="0.8490" stop-color="#b8b8b8"/><stop offset="0.8564" stop-color="#d9d9d9"/><stop offset="0.8663" stop-color="#e9e9e9"/><stop offset="0.9257" stop-color="#ededed"/><stop offset="1.0000" stop-color="#eeeeee"/></linearGradient><linearGradient id="g6" gradientUnits="userSpaceOnUse" x1="0" y1="322" x2="0" y2="524"><stop offset="0.0000" stop-color="#f0f0f0"/><stop offset="0.1213" stop-color="#e7e7e7"/><stop offset="0.1262" stop-color="#e0e0e0"/><stop offset="0.1287" stop-color="#d6d6d6"/><stop offset="0.1312" stop-color="#c5c5c5"/><stop offset="0.1337" stop-color="#aaaaaa"/><stop offset="0.1386" stop-color="#6b6b6b"/><stop offset="0.1411" stop-color="#595959"/><stop offset="0.1436" stop-color="#5b5b5b"/><stop offset="0.1460" stop-color="#707070"/><stop offset="0.1510" stop-color="#aeaeae"/><stop offset="0.1535" stop-color="#c7c7c7"/><stop offset="0.1559" stop-color="#d6d6d6"/><stop offset="0.1609" stop-color="#e2e2e2"/><stop offset="0.2401" stop-color="#dadada"/><stop offset="0.2475" stop-color="#cdcdcd"/><stop offset="0.2525" stop-color="#b4b4b4"/><stop offset="0.2574" stop-color="#868686"/><stop offset="0.2649" stop-color="#2b2b2b"/><stop offset="0.2673" stop-color="#131313"/><stop offset="0.2698" stop-color="#040404"/><stop offset="0.2723" stop-color="#000000"/><stop offset="0.2748" stop-color="#080808"/><stop offset="0.2772" stop-color="#1a1a1a"/><stop offset="0.2847" stop-color="#666666"/><stop offset="0.2871" stop-color="#7a7a7a"/><stop offset="0.2896" stop-color="#878787"/><stop offset="0.2921" stop-color="#8c8c8c"/><stop offset="0.2946" stop-color="#8a8a8a"/><stop offset="0.2995" stop-color="#757575"/><stop offset="0.3119" stop-color="#272727"/><stop offset="0.3168" stop-color="#171717"/><stop offset="0.3218" stop-color="#191919"/><stop offset="0.3267" stop-color="#2a2a2a"/><stop offset="0.3391" stop-color="#6f6f6f"/><stop offset="0.3490" stop-color="#949494"/><stop offset="0.3589" stop-color="#a7a7a7"/><stop offset="0.3861" stop-color="#b9b9b9"/><stop offset="0.4728" stop-color="#dadada"/><stop offset="0.5470" stop-color="#e6e6e6"/><stop offset="0.5842" stop-color="#e5e5e5"/><stop offset="0.5965" stop-color="#d3d3d3"/><stop offset="0.6040" stop-color="#dddddd"/><stop offset="0.6139" stop-color="#e8e8e8"/><stop offset="0.6584" stop-color="#e8e8e8"/><stop offset="0.6683" stop-color="#e0e0e0"/><stop offset="0.6832" stop-color="#eaeaea"/><stop offset="0.7228" stop-color="#e9e9e9"/><stop offset="0.7376" stop-color="#dbdbdb"/><stop offset="0.7550" stop-color="#eaeaea"/><stop offset="0.7797" stop-color="#e8e8e8"/><stop offset="0.7896" stop-color="#d9d9d9"/><stop offset="0.7946" stop-color="#c7c7c7"/><stop offset="0.7995" stop-color="#aaaaaa"/><stop offset="0.8069" stop-color="#6b6b6b"/><stop offset="0.8144" stop-color="#272727"/><stop offset="0.8193" stop-color="#080808"/><stop offset="0.8218" stop-color="#010101"/><stop offset="0.8267" stop-color="#060606"/><stop offset="0.8317" stop-color="#232323"/><stop offset="0.8441" stop-color="#939393"/><stop offset="0.8490" stop-color="#b8b8b8"/><stop offset="0.8564" stop-color="#d9d9d9"/><stop offset="0.8663" stop-color="#e9e9e9"/><stop offset="0.9257" stop-color="#ededed"/><stop offset="1.0000" stop-color="#eeeeee"/></linearGradient><linearGradient id="g7" gradientUnits="userSpaceOnUse" x1="0" y1="322" x2="0" y2="524"><stop offset="0.0000" stop-color="#f0f0f0"/><stop offset="0.1238" stop-color="#e6e6e6"/><stop offset="0.1287" stop-color="#dcdcdc"/><stop offset="0.1312" stop-color="#d0d0d0"/><stop offset="0.1386" stop-color="#929292"/><stop offset="0.1411" stop-color="#868686"/><stop offset="0.1436" stop-color="#888888"/><stop offset="0.1460" stop-color="#969696"/><stop offset="0.1510" stop-color="#c0c0c0"/><stop offset="0.1559" stop-color="#dbdbdb"/><stop offset="0.1634" stop-color="#e3e3e3"/><stop offset="0.2401" stop-color="#dadada"/><stop offset="0.2475" stop-color="#cdcdcd"/><stop offset="0.2525" stop-color="#b4b4b4"/><stop offset="0.2574" stop-color="#868686"/><stop offset="0.2649" stop-color="#2b2b2b"/><stop offset="0.2673" stop-color="#131313"/><stop offset="0.2698" stop-color="#040404"/><stop offset="0.2723" stop-color="#000000"/><stop offset="0.2748" stop-color="#080808"/><stop offset="0.2772" stop-color="#1a1a1a"/><stop offset="0.2847" stop-color="#666666"/><stop offset="0.2871" stop-color="#7a7a7a"/><stop offset="0.2896" stop-color="#878787"/><stop offset="0.2921" stop-color="#8c8c8c"/><stop offset="0.2946" stop-color="#8a8a8a"/><stop offset="0.2995" stop-color="#757575"/><stop offset="0.3119" stop-color="#272727"/><stop offset="0.3168" stop-color="#171717"/><stop offset="0.3218" stop-color="#191919"/><stop offset="0.3267" stop-color="#2a2a2a"/><stop offset="0.3391" stop-color="#6f6f6f"/><stop offset="0.3490" stop-color="#949494"/><stop offset="0.3589" stop-color="#a7a7a7"/><stop offset="0.3861" stop-color="#b9b9b9"/><stop offset="0.4728" stop-color="#dadada"/><stop offset="0.5470" stop-color="#e6e6e6"/><stop offset="0.5842" stop-color="#e5e5e5"/><stop offset="0.5965" stop-color="#d3d3d3"/><stop offset="0.6040" stop-color="#dddddd"/><stop offset="0.6139" stop-color="#e8e8e8"/><stop offset="0.6584" stop-color="#e8e8e8"/><stop offset="0.6683" stop-color="#e0e0e0"/><stop offset="0.6832" stop-color="#eaeaea"/><stop offset="0.7228" stop-color="#e9e9e9"/><stop offset="0.7376" stop-color="#dbdbdb"/><stop offset="0.7550" stop-color="#eaeaea"/><stop offset="0.7896" stop-color="#e9e9e9"/><stop offset="0.7970" stop-color="#dfdfdf"/><stop offset="0.8045" stop-color="#c7c7c7"/><stop offset="0.8168" stop-color="#858585"/><stop offset="0.8218" stop-color="#777777"/><stop offset="0.8267" stop-color="#7a7a7a"/><stop offset="0.8317" stop-color="#8e8e8e"/><stop offset="0.8416" stop-color="#c5c5c5"/><stop offset="0.8490" stop-color="#dfdfdf"/><stop offset="0.8589" stop-color="#eaeaea"/><stop offset="1.0000" stop-color="#eeeeee"/></linearGradient><linearGradient id="g8" gradientUnits="userSpaceOnUse" x1="0" y1="322" x2="0" y2="524"><stop offset="0.0000" stop-color="#f0f0f0"/><stop offset="0.1238" stop-color="#e6e6e6"/><stop offset="0.1287" stop-color="#dcdcdc"/><stop offset="0.1312" stop-color="#d0d0d0"/><stop offset="0.1386" stop-color="#929292"/><stop offset="0.1411" stop-color="#868686"/><stop offset="0.1436" stop-color="#888888"/><stop offset="0.1460" stop-color="#969696"/><stop offset="0.1510" stop-color="#c0c0c0"/><stop offset="0.1559" stop-color="#dbdbdb"/><stop offset="0.1634" stop-color="#e3e3e3"/><stop offset="0.2401" stop-color="#dadada"/><stop offset="0.2475" stop-color="#cdcdcd"/><stop offset="0.2525" stop-color="#b4b4b4"/><stop offset="0.2574" stop-color="#868686"/><stop offset="0.2649" stop-color="#2b2b2b"/><stop offset="0.2673" stop-color="#131313"/><stop offset="0.2698" stop-color="#040404"/><stop offset="0.2723" stop-color="#000000"/><stop offset="0.2748" stop-color="#080808"/><stop offset="0.2772" stop-color="#1a1a1a"/><stop offset="0.2847" stop-color="#666666"/><stop offset="0.2871" stop-color="#7a7a7a"/><stop offset="0.2896" stop-color="#878787"/><stop offset="0.2921" stop-color="#8c8c8c"/><stop offset="0.2946" stop-color="#8a8a8a"/><stop offset="0.2995" stop-color="#757575"/><stop offset="0.3119" stop-color="#272727"/><stop offset="0.3168" stop-color="#171717"/><stop offset="0.3218" stop-color="#191919"/><stop offset="0.3267" stop-color="#2a2a2a"/><stop offset="0.3391" stop-color="#6f6f6f"/><stop offset="0.3490" stop-color="#949494"/><stop offset="0.3589" stop-color="#a7a7a7"/><stop offset="0.3861" stop-color="#b9b9b9"/><stop offset="0.4728" stop-color="#dadada"/><stop offset="0.5470" stop-color="#e6e6e6"/><stop offset="0.5842" stop-color="#e5e5e5"/><stop offset="0.5965" stop-color="#d3d3d3"/><stop offset="0.6040" stop-color="#dddddd"/><stop offset="0.6139" stop-color="#e8e8e8"/><stop offset="0.6584" stop-color="#e8e8e8"/><stop offset="0.6683" stop-color="#e0e0e0"/><stop offset="0.6832" stop-color="#eaeaea"/><stop offset="0.7228" stop-color="#e9e9e9"/><stop offset="0.7376" stop-color="#dbdbdb"/><stop offset="0.7550" stop-color="#eaeaea"/><stop offset="0.7871" stop-color="#eaeaea"/><stop offset="0.7970" stop-color="#dddddd"/><stop offset="0.8045" stop-color="#bfbfbf"/><stop offset="0.8168" stop-color="#707070"/><stop offset="0.8218" stop-color="#5f5f5f"/><stop offset="0.8267" stop-color="#646464"/><stop offset="0.8317" stop-color="#7c7c7c"/><stop offset="0.8416" stop-color="#bdbdbd"/><stop offset="0.8465" stop-color="#d4d4d4"/><stop offset="0.8540" stop-color="#e6e6e6"/><stop offset="0.8688" stop-color="#ececec"/><stop offset="1.0000" stop-color="#eeeeee"/></linearGradient><linearGradient id="g9" gradientUnits="userSpaceOnUse" x1="0" y1="322" x2="0" y2="524"><stop offset="0.0000" stop-color="#f0f0f0"/><stop offset="0.1832" stop-color="#e4e4e4"/><stop offset="0.1906" stop-color="#dfdfdf"/><stop offset="0.1955" stop-color="#d0d0d0"/><stop offset="0.1980" stop-color="#bfbfbf"/><stop offset="0.2005" stop-color="#a7a7a7"/><stop offset="0.2054" stop-color="#696969"/><stop offset="0.2079" stop-color="#505050"/><stop offset="0.2104" stop-color="#444444"/><stop offset="0.2129" stop-color="#494949"/><stop offset="0.2153" stop-color="#5d5d5d"/><stop offset="0.2203" stop-color="#9a9a9a"/><stop offset="0.2228" stop-color="#b4b4b4"/><stop offset="0.2252" stop-color="#c8c8c8"/><stop offset="0.2277" stop-color="#d4d4d4"/><stop offset="0.2327" stop-color="#dddddd"/><stop offset="0.2401" stop-color="#dbdbdb"/><stop offset="0.2450" stop-color="#cdcdcd"/><stop offset="0.2475" stop-color="#bfbfbf"/><stop offset="0.2500" stop-color="#aaaaaa"/><stop offset="0.2574" stop-color="#535353"/><stop offset="0.2599" stop-color="#3e3e3e"/><stop offset="0.2624" stop-color="#363636"/><stop offset="0.2649" stop-color="#3d3d3d"/><stop offset="0.2673" stop-color="#525252"/><stop offset="0.2748" stop-color="#a4a4a4"/><stop offset="0.2772" stop-color="#b6b6b6"/><stop offset="0.2797" stop-color="#c0c0c0"/><stop offset="0.2847" stop-color="#c4c4c4"/><stop offset="0.2921" stop-color="#b2b2b2"/><stop offset="0.3045" stop-color="#808080"/><stop offset="0.3094" stop-color="#797979"/><stop offset="0.3144" stop-color="#7e7e7e"/><stop offset="0.3292" stop-color="#b0b0b0"/><stop offset="0.3391" stop-color="#bdbdbd"/><stop offset="0.4678" stop-color="#e2e2e2"/><stop offset="0.5569" stop-color="#ebebeb"/><stop offset="1.0000" stop-color="#f0f0f0"/></linearGradient></defs>
<text x="4.6" y="291.9" font-size="20.5" font-weight="bold" font-style="normal" text-anchor="start" fill="#000" >b</text>
<text transform="translate(12.6,315.5) scale(1.04,1)" x="0" y="0" font-size="12.3" font-weight="bold" font-style="normal" text-anchor="start" fill="#000" >[kDa]</text>
<text transform="translate(298.2,315.2) scale(1.04,1)" x="0" y="0" font-size="12.3" font-weight="bold" font-style="normal" text-anchor="start" fill="#000" >[kDa]</text>
<text transform="translate(79.7,312.5) scale(1.045,1)" x="0" y="0" font-size="12.6" font-weight="normal" font-style="normal" text-anchor="middle" fill="#111" >Cellulose</text>
<text transform="translate(194.2,312.0) scale(1.04,1)" x="0" y="0" font-size="12.6" font-weight="normal" font-style="normal" text-anchor="middle" fill="#111" >Glucose</text>
<line x1="109.5" y1="317.3" x2="272.6" y2="317.3" stroke="#111" stroke-width="1.3" />
<g clip-path="url(#gelclip)">
<rect x="46.5" y="322.5" width="252.5" height="201" fill="#fafafa" stroke="none" stroke-width="0" />
<path d="M57.9 322 L56.5 352 L55.0 368 L53.4 396 L51.0 423 L49.2 465 L48.0 524 L58.5 524 L59.8 465 L61.5 423 L63.9 396 L65.5 368 L67.0 352 L68.3 322 Z" fill="url(#gM1)" filter="url(#bx)"/>
<path d="M98.1 322 L95.2 370 L93.8 397 L91.7 423 L89.6 465 L89.2 524 L99.2 524 L99.6 465 L101.7 423 L103.8 397 L105.2 370 L108.1 322 Z" fill="url(#gM2)" filter="url(#bx)"/>
<path d="M278.5 322 L279.3 349 L280.8 365 L282.3 393 L284.0 419 L285.5 461 L286.5 524 L297.5 524 L296.5 461 L295.0 419 L293.3 393 L291.8 365 L290.3 349 L289.5 322 Z" fill="url(#gM3)" filter="url(#bx)"/>
<path d="M72.8 322 L71.9 343 L70.0 375 L65.6 444 L64.2 488 L63.5 524 L83.5 524 L84.2 488 L85.6 444 L90.0 375 L91.9 343 L92.8 322 Z" fill="url(#g1)" filter="url(#bx)"/>
<path d="M111.6 322 L110.0 369 L105.0 524 L123.0 524 L128.0 369 L129.6 322 Z" fill="url(#g2)" filter="url(#bx)"/>
<path d="M135.3 322 L134.3 354 L129.9 489 L129.0 524 L145.0 524 L145.9 489 L150.3 354 L151.3 322 Z" fill="url(#g3)" filter="url(#bx)"/>
<path d="M155.3 322 L154.0 524 L170.0 524 L171.3 322 Z" fill="url(#g4)" filter="url(#bx)"/>
<path d="M175.2 322 L176.2 377 L178.2 488 L178.8 524 L194.8 524 L194.2 488 L192.2 377 L191.2 322 Z" fill="url(#g5)" filter="url(#bx)"/>
<path d="M194.9 322 L196.7 377 L200.4 488 L201.6 524 L217.6 524 L216.4 488 L212.7 377 L210.9 322 Z" fill="url(#g6)" filter="url(#bx)"/>
<path d="M213.5 322 L216.5 377 L222.5 488 L224.4 524 L240.4 524 L238.5 488 L232.5 377 L229.5 322 Z" fill="url(#g7)" filter="url(#bx)"/>
<path d="M234.3 322 L237.5 377 L243.9 488 L246.0 524 L262.0 524 L259.9 488 L253.5 377 L250.3 322 Z" fill="url(#g8)" filter="url(#bx)"/>
<path d="M257.9 322 L259.3 370 L263.9 524 L279.9 524 L275.3 370 L273.9 322 Z" fill="url(#g9)" filter="url(#bx)"/>
<rect x="128.0" y="485.3" width="19.6" height="8.7" rx="3" fill="#000" filter="url(#b1)"/>
<rect x="178.0" y="485.3" width="16.6" height="6.3" rx="3" fill="#050505" filter="url(#b1)"/>
<rect x="199.8" y="485.3" width="17.4" height="6.3" rx="3" fill="#050505" filter="url(#b1)"/>
<rect x="221.8" y="485.8" width="17.6" height="5.2" rx="3" fill="#9a9a9a" filter="url(#b1)"/>
<rect x="243.6" y="484.6" width="16.8" height="5.0" rx="3" fill="#8a8a8a" filter="url(#b1)"/>
</g>
<path d="M46.9 322.6 H298.8 V523.4 H46.9 Z" fill="none" stroke="#222" stroke-width="1.6"/>
<text x="43.2" y="332.9" font-size="10" font-weight="bold" font-style="normal" text-anchor="end" fill="#000" >250-</text>
<text x="43.2" y="344" font-size="10" font-weight="bold" font-style="normal" text-anchor="end" fill="#000" >150-</text>
<text x="43.2" y="357.4" font-size="10" font-weight="bold" font-style="normal" text-anchor="end" fill="#000" >100-</text>
<text x="43.2" y="373.3" font-size="10" font-weight="bold" font-style="normal" text-anchor="end" fill="#000" >75-</text>
<text x="43.2" y="402.2" font-size="10" font-weight="bold" font-style="normal" text-anchor="end" fill="#000" >50-</text>
<text x="43.2" y="429" font-size="10" font-weight="bold" font-style="normal" text-anchor="end" fill="#000" >37-</text>
<text x="43.2" y="470.3" font-size="10" font-weight="bold" font-style="normal" text-anchor="end" fill="#000" >25-</text>
<text x="43.2" y="485.7" font-size="10" font-weight="bold" font-style="normal" text-anchor="end" fill="#000" >20-</text>
<text x="43.2" y="524.8" font-size="10" font-weight="bold" font-style="normal" text-anchor="end" fill="#000" >15-</text>
<text x="302.3" y="332.1" font-size="10" font-weight="bold" font-style="normal" text-anchor="start" fill="#000" >-250</text>
<text x="302.3" y="342.1" font-size="10" font-weight="bold" font-style="normal" text-anchor="start" fill="#000" >-150</text>
<text x="302.3" y="356.8" font-size="10" font-weight="bold" font-style="normal" text-anchor="start" fill="#000" >-100</text>
<text x="302.3" y="370.8" font-size="10" font-weight="bold" font-style="normal" text-anchor="start" fill="#000" >-75</text>
<text x="302.3" y="399.1" font-size="10" font-weight="bold" font-style="normal" text-anchor="start" fill="#000" >-50</text>
<text x="302.3" y="425.9" font-size="10" font-weight="bold" font-style="normal" text-anchor="start" fill="#000" >-37</text>
<text x="302.3" y="467.1" font-size="10" font-weight="bold" font-style="normal" text-anchor="start" fill="#000" >-25</text>
<text x="302.3" y="483" font-size="10" font-weight="bold" font-style="normal" text-anchor="start" fill="#000" >-20</text>
<text x="302.3" y="522.2" font-size="10" font-weight="bold" font-style="normal" text-anchor="start" fill="#000" >-15</text>
<text transform="translate(51.1,536.6) scale(1.22,1)" x="0" y="0" font-size="7.0" font-weight="bold" font-style="normal" text-anchor="middle" fill="#000" >(M)</text>
<text x="69" y="539.6" font-size="13" font-weight="bold" font-style="normal" text-anchor="middle" fill="#000" >1</text>
<text transform="translate(91.5,536.6) scale(1.22,1)" x="0" y="0" font-size="7.0" font-weight="bold" font-style="normal" text-anchor="middle" fill="#000" >(M)</text>
<text x="109.8" y="539.6" font-size="13" font-weight="bold" font-style="normal" text-anchor="middle" fill="#000" >2</text>
<text x="134.9" y="539.6" font-size="13" font-weight="bold" font-style="normal" text-anchor="middle" fill="#000" >3</text>
<text x="159.8" y="539.6" font-size="13" font-weight="bold" font-style="normal" text-anchor="middle" fill="#000" >4</text>
<text x="184.8" y="539.6" font-size="13" font-weight="bold" font-style="normal" text-anchor="middle" fill="#000" >5</text>
<text x="207.3" y="539.6" font-size="13" font-weight="bold" font-style="normal" text-anchor="middle" fill="#000" >6</text>
<text x="229.6" y="539.6" font-size="13" font-weight="bold" font-style="normal" text-anchor="middle" fill="#000" >7</text>
<text x="251.8" y="539.6" font-size="13" font-weight="bold" font-style="normal" text-anchor="middle" fill="#000" >8</text>
<text x="274.8" y="539.6" font-size="13" font-weight="bold" font-style="normal" text-anchor="middle" fill="#000" >9</text>
<text transform="translate(296,536.6) scale(1.22,1)" x="0" y="0" font-size="7.0" font-weight="bold" font-style="normal" text-anchor="middle" fill="#000" >(M)</text>
<text x="349.3" y="23.7" font-size="19" font-weight="bold" font-style="normal" text-anchor="start" fill="#000" >c</text>
<text transform="translate(519.7,26.7) scale(1.105,1)" x="0" y="0" font-size="13.8" font-weight="bold" font-style="normal" text-anchor="middle" fill="#000" >Extracellular protein</text>
<text x="378.3" y="176.8" font-size="13.8" font-weight="normal" font-style="normal" text-anchor="end" fill="#111" >0.0</text>
<line x1="392.7" y1="149.16666666666669" x2="665.4" y2="149.16666666666669" stroke="#d9d9d9" stroke-width="1.3" />
<text x="378.3" y="154.16666666666669" font-size="13.8" font-weight="normal" font-style="normal" text-anchor="end" fill="#111" >1.0</text>
<line x1="392.7" y1="126.53333333333333" x2="665.4" y2="126.53333333333333" stroke="#d9d9d9" stroke-width="1.3" />
<text x="378.3" y="131.53333333333333" font-size="13.8" font-weight="normal" font-style="normal" text-anchor="end" fill="#111" >2.0</text>
<line x1="392.7" y1="103.9" x2="665.4" y2="103.9" stroke="#d9d9d9" stroke-width="1.3" />
<text x="378.3" y="108.9" font-size="13.8" font-weight="normal" font-style="normal" text-anchor="end" fill="#111" >3.0</text>
<line x1="392.7" y1="81.26666666666667" x2="665.4" y2="81.26666666666667" stroke="#d9d9d9" stroke-width="1.3" />
<text x="378.3" y="86.26666666666667" font-size="13.8" font-weight="normal" font-style="normal" text-anchor="end" fill="#111" >4.0</text>
<line x1="392.7" y1="58.633333333333326" x2="665.4" y2="58.633333333333326" stroke="#d9d9d9" stroke-width="1.3" />
<text x="378.3" y="63.633333333333326" font-size="13.8" font-weight="normal" font-style="normal" text-anchor="end" fill="#111" >5.0</text>
<text x="378.3" y="41.0" font-size="13.8" font-weight="normal" font-style="normal" text-anchor="end" fill="#111" >6.0</text>
<text x="0" y="0" font-size="14.5" font-weight="bold" font-style="normal" text-anchor="middle" fill="#000" transform="translate(352.2,111.3) rotate(-90)">(g/L)</text>
<rect x="403.24999999999994" y="60.21766666666667" width="9.2" height="111.58233333333334" fill="#7f7f7f" stroke="#000" stroke-width="1.1" />
<line x1="407.84999999999997" y1="56.82266666666666" x2="407.84999999999997" y2="63.16" stroke="#000" stroke-width="1.1" />
<line x1="404.65" y1="56.82266666666666" x2="411.04999999999995" y2="56.82266666666666" stroke="#000" stroke-width="1.2" />
<line x1="404.65" y1="63.16" x2="411.04999999999995" y2="63.16" stroke="#000" stroke-width="1.2" />
<polygon points="405.95,47.77 406.57,49.47 408.38,49.53 406.95,50.65 407.45,52.39 405.95,51.37 404.45,52.39 404.95,50.65 403.52,49.53 405.33,49.47" fill="#111"/>
<polygon points="411.25,47.77 411.87,49.47 413.68,49.53 412.25,50.65 412.75,52.39 411.25,51.37 409.75,52.39 410.25,50.65 408.82,49.53 410.63,49.47" fill="#111"/>
<g clip-path="url(#cclip)">
<text x="413.84999999999997" y="49.422666666666665" font-size="7.8" font-weight="normal" font-style="normal" text-anchor="start" fill="#333" >a,b</text>
</g>
<text x="407.84999999999997" y="187.4" font-size="12.8" font-weight="bold" font-style="normal" text-anchor="middle" fill="#000" >1</text>
<rect x="433.54999999999995" y="162.74666666666667" width="9.2" height="9.053333333333342" fill="#7f7f7f" stroke="#000" stroke-width="1.1" />
<polygon points="436.25,152.60 436.87,154.30 438.68,154.36 437.25,155.47 437.75,157.21 436.25,156.20 434.75,157.21 435.25,155.47 433.82,154.36 435.63,154.30" fill="#111"/>
<polygon points="441.55,152.60 442.17,154.30 443.98,154.36 442.55,155.47 443.05,157.21 441.55,156.20 440.05,157.21 440.55,155.47 439.12,154.36 440.93,154.30" fill="#111"/>
<g clip-path="url(#cclip)">
<text x="444.15" y="154.24666666666667" font-size="7.8" font-weight="normal" font-style="normal" text-anchor="start" fill="#333" >a,b</text>
</g>
<text x="438.15" y="187.4" font-size="12.8" font-weight="bold" font-style="normal" text-anchor="middle" fill="#000" >2</text>
<rect x="463.84999999999997" y="124.49633333333334" width="9.2" height="47.30366666666667" fill="#7f7f7f" stroke="#000" stroke-width="1.1" />
<line x1="468.45" y1="120.64866666666668" x2="468.45" y2="127.89133333333334" stroke="#000" stroke-width="1.1" />
<line x1="465.25" y1="120.64866666666668" x2="471.65" y2="120.64866666666668" stroke="#000" stroke-width="1.2" />
<line x1="465.25" y1="127.89133333333334" x2="471.65" y2="127.89133333333334" stroke="#000" stroke-width="1.2" />
<polygon points="466.55,111.60 467.17,113.30 468.98,113.36 467.55,114.47 468.05,116.21 466.55,115.20 465.05,116.21 465.55,114.47 464.12,113.36 465.93,113.30" fill="#111"/>
<polygon points="471.85,111.60 472.47,113.30 474.28,113.36 472.85,114.47 473.35,116.21 471.85,115.20 470.35,116.21 470.85,114.47 469.42,113.36 471.23,113.30" fill="#111"/>
<g clip-path="url(#cclip)">
<text x="474.45" y="113.24866666666668" font-size="7.8" font-weight="normal" font-style="normal" text-anchor="start" fill="#333" >a,b</text>
</g>
<text x="468.45" y="187.4" font-size="12.8" font-weight="bold" font-style="normal" text-anchor="middle" fill="#000" >3</text>
<rect x="494.15" y="158.6726666666667" width="9.2" height="13.127333333333326" fill="#7f7f7f" stroke="#000" stroke-width="1.1" />
<polygon points="496.85,148.52 497.47,150.22 499.28,150.28 497.85,151.40 498.35,153.14 496.85,152.12 495.35,153.14 495.85,151.40 494.42,150.28 496.23,150.22" fill="#111"/>
<polygon points="502.15,148.52 502.77,150.22 504.58,150.28 503.15,151.40 503.65,153.14 502.15,152.12 500.65,153.14 501.15,151.40 499.72,150.28 501.53,150.22" fill="#111"/>
<g clip-path="url(#cclip)">
<text x="504.75" y="150.1726666666667" font-size="7.8" font-weight="normal" font-style="normal" text-anchor="start" fill="#333" >a,b</text>
</g>
<text x="498.75" y="187.4" font-size="12.8" font-weight="bold" font-style="normal" text-anchor="middle" fill="#000" >4</text>
<rect x="524.4499999999999" y="99.826" width="9.2" height="71.97400000000002" fill="#7f7f7f" stroke="#000" stroke-width="1.1" />
<line x1="529.05" y1="99.147" x2="529.05" y2="100.50500000000001" stroke="#000" stroke-width="1.1" />
<line x1="525.8499999999999" y1="99.147" x2="532.25" y2="99.147" stroke="#000" stroke-width="1.2" />
<line x1="525.8499999999999" y1="100.50500000000001" x2="532.25" y2="100.50500000000001" stroke="#000" stroke-width="1.2" />
<polygon points="527.15,90.10 527.77,91.80 529.58,91.86 528.15,92.97 528.65,94.71 527.15,93.70 525.65,94.71 526.15,92.97 524.72,91.86 526.53,91.80" fill="#111"/>
<polygon points="532.45,90.10 533.07,91.80 534.88,91.86 533.45,92.97 533.95,94.71 532.45,93.70 530.95,94.71 531.45,92.97 530.02,91.86 531.83,91.80" fill="#111"/>
<g clip-path="url(#cclip)">
<text x="535.05" y="91.747" font-size="7.8" font-weight="normal" font-style="normal" text-anchor="start" fill="#333" >b</text>
</g>
<text x="529.05" y="187.4" font-size="12.8" font-weight="bold" font-style="normal" text-anchor="middle" fill="#000" >5</text>
<rect x="554.7499999999999" y="109.10566666666668" width="9.2" height="62.69433333333333" fill="#7f7f7f" stroke="#000" stroke-width="1.1" />
<polygon points="557.45,98.96 558.07,100.66 559.88,100.72 558.45,101.83 558.95,103.57 557.45,102.56 555.95,103.57 556.45,101.83 555.02,100.72 556.83,100.66" fill="#111"/>
<polygon points="562.75,98.96 563.37,100.66 565.18,100.72 563.75,101.83 564.25,103.57 562.75,102.56 561.25,103.57 561.75,101.83 560.32,100.72 562.13,100.66" fill="#111"/>
<g clip-path="url(#cclip)">
<text x="565.3499999999999" y="100.60566666666668" font-size="7.8" font-weight="normal" font-style="normal" text-anchor="start" fill="#333" >a</text>
</g>
<text x="559.3499999999999" y="187.4" font-size="12.8" font-weight="bold" font-style="normal" text-anchor="middle" fill="#000" >6</text>
<rect x="585.05" y="115.66933333333333" width="9.2" height="56.130666666666684" fill="#7f7f7f" stroke="#000" stroke-width="1.1" />
<line x1="589.65" y1="107.74766666666667" x2="589.65" y2="123.59100000000001" stroke="#000" stroke-width="1.1" />
<line x1="586.4499999999999" y1="107.74766666666667" x2="592.85" y2="107.74766666666667" stroke="#000" stroke-width="1.2" />
<line x1="586.4499999999999" y1="123.59100000000001" x2="592.85" y2="123.59100000000001" stroke="#000" stroke-width="1.2" />
<polygon points="587.75,98.70 588.37,100.40 590.18,100.46 588.75,101.57 589.25,103.31 587.75,102.30 586.25,103.31 586.75,101.57 585.32,100.46 587.13,100.40" fill="#111"/>
<polygon points="593.05,98.70 593.67,100.40 595.48,100.46 594.05,101.57 594.55,103.31 593.05,102.30 591.55,103.31 592.05,101.57 590.62,100.46 592.43,100.40" fill="#111"/>
<g clip-path="url(#cclip)">
<text x="595.65" y="100.34766666666667" font-size="7.8" font-weight="normal" font-style="normal" text-anchor="start" fill="#333" >a</text>
</g>
<text x="589.65" y="187.4" font-size="12.8" font-weight="bold" font-style="normal" text-anchor="middle" fill="#000" >7</text>
<rect x="615.3499999999999" y="122.45933333333333" width="9.2" height="49.34066666666668" fill="#7f7f7f" stroke="#000" stroke-width="1.1" />
<line x1="619.9499999999999" y1="119.74333333333334" x2="619.9499999999999" y2="125.17533333333333" stroke="#000" stroke-width="1.1" />
<line x1="616.7499999999999" y1="119.74333333333334" x2="623.15" y2="119.74333333333334" stroke="#000" stroke-width="1.2" />
<line x1="616.7499999999999" y1="125.17533333333333" x2="623.15" y2="125.17533333333333" stroke="#000" stroke-width="1.2" />
<polygon points="618.05,110.69 618.67,112.39 620.48,112.46 619.05,113.57 619.55,115.31 618.05,114.29 616.55,115.31 617.05,113.57 615.62,112.46 617.43,112.39" fill="#111"/>
<polygon points="623.35,110.69 623.97,112.39 625.78,112.46 624.35,113.57 624.85,115.31 623.35,114.29 621.85,115.31 622.35,113.57 620.92,112.46 622.73,112.39" fill="#111"/>
<g clip-path="url(#cclip)">
<text x="625.9499999999999" y="112.34333333333333" font-size="7.8" font-weight="normal" font-style="normal" text-anchor="start" fill="#333" >a</text>
</g>
<text x="619.9499999999999" y="187.4" font-size="12.8" font-weight="bold" font-style="normal" text-anchor="middle" fill="#000" >8</text>
<rect x="645.65" y="160.48333333333335" width="9.2" height="11.316666666666663" fill="#7f7f7f" stroke="#000" stroke-width="1.1" />
<polygon points="648.35,150.33 648.97,152.03 650.78,152.10 649.35,153.21 649.85,154.95 648.35,153.93 646.85,154.95 647.35,153.21 645.92,152.10 647.73,152.03" fill="#111"/>
<polygon points="653.65,150.33 654.27,152.03 656.08,152.10 654.65,153.21 655.15,154.95 653.65,153.93 652.15,154.95 652.65,153.21 651.22,152.10 653.03,152.03" fill="#111"/>
<g clip-path="url(#cclip)">
<text x="656.25" y="151.98333333333335" font-size="7.8" font-weight="normal" font-style="normal" text-anchor="start" fill="#333" >a,b</text>
</g>
<text x="650.25" y="187.4" font-size="12.8" font-weight="bold" font-style="normal" text-anchor="middle" fill="#000" >9</text>
<path d="M392.7 171.8 H665.4 V36 H392.7 Z" fill="none" stroke="#222" stroke-width="1.4"/>
<text x="349" y="208" font-size="20" font-weight="bold" font-style="normal" text-anchor="start" fill="#000" >d</text>
<text transform="translate(525.4,214) scale(1.104,1)" x="0" y="0" font-size="13.8" font-weight="bold" font-style="normal" text-anchor="middle" fill="#000" >Relative transcriptional levels</text>
<text x="381" y="367.1" font-size="13.8" font-weight="normal" font-style="normal" text-anchor="end" fill="#111" >0</text>
<line x1="391.9" y1="315.70000000000005" x2="666.6" y2="315.70000000000005" stroke="#d9d9d9" stroke-width="1.3" />
<text x="381" y="320.70000000000005" font-size="13.8" font-weight="normal" font-style="normal" text-anchor="end" fill="#111" >10</text>
<line x1="391.9" y1="269.3" x2="666.6" y2="269.3" stroke="#d9d9d9" stroke-width="1.3" />
<text x="381" y="274.3" font-size="13.8" font-weight="normal" font-style="normal" text-anchor="end" fill="#111" >20</text>
<text x="381" y="227.9" font-size="13.8" font-weight="normal" font-style="normal" text-anchor="end" fill="#111" >30</text>
<text x="0" y="0" font-size="15.5" font-weight="bold" font-style="normal" text-anchor="middle" fill="#000" transform="translate(368.6,291) rotate(-90)">(-)</text>
<rect x="397.76111111111106" y="222.9" width="5.6" height="139.20000000000002" fill="#1f4e79" stroke="none" stroke-width="0" />
<rect x="404.3611111111111" y="222.9" width="5.6" height="139.20000000000002" fill="#2e75b6" stroke="none" stroke-width="0" />
<text x="407.1611111111111" y="375.5" font-size="13" font-weight="bold" font-style="normal" text-anchor="middle" fill="#000" >1</text>
<rect x="428.2833333333333" y="357.46000000000004" width="5.6" height="4.639999999999986" fill="#1f4e79" stroke="none" stroke-width="0" />
<line x1="431.0833333333333" y1="356.764" x2="431.0833333333333" y2="357.46000000000004" stroke="#000" stroke-width="1.1" />
<line x1="427.9833333333333" y1="356.764" x2="434.18333333333334" y2="356.764" stroke="#000" stroke-width="1.3" />
<line x1="427.9833333333333" y1="357.46000000000004" x2="434.18333333333334" y2="357.46000000000004" stroke="#000" stroke-width="1.3" />
<rect x="434.8833333333333" y="356.06800000000004" width="5.6" height="6.031999999999982" fill="#2e75b6" stroke="none" stroke-width="0" />
<line x1="437.68333333333334" y1="355.51120000000003" x2="437.68333333333334" y2="356.06800000000004" stroke="#000" stroke-width="1.1" />
<line x1="434.5833333333333" y1="355.51120000000003" x2="440.78333333333336" y2="355.51120000000003" stroke="#000" stroke-width="1.3" />
<line x1="434.5833333333333" y1="356.06800000000004" x2="440.78333333333336" y2="356.06800000000004" stroke="#000" stroke-width="1.3" />
<text x="437.68333333333334" y="375.5" font-size="13" font-weight="bold" font-style="normal" text-anchor="middle" fill="#000" >2</text>
<rect x="458.8055555555555" y="306.188" width="5.6" height="55.912000000000035" fill="#1f4e79" stroke="none" stroke-width="0" />
<line x1="461.6055555555555" y1="295.284" x2="461.6055555555555" y2="317.09200000000004" stroke="#000" stroke-width="1.1" />
<line x1="458.5055555555555" y1="295.284" x2="464.7055555555555" y2="295.284" stroke="#000" stroke-width="1.3" />
<line x1="458.5055555555555" y1="317.09200000000004" x2="464.7055555555555" y2="317.09200000000004" stroke="#000" stroke-width="1.3" />
<rect x="465.4055555555555" y="336.812" width="5.6" height="25.28800000000001" fill="#2e75b6" stroke="none" stroke-width="0" />
<line x1="468.2055555555555" y1="329.156" x2="468.2055555555555" y2="344.004" stroke="#000" stroke-width="1.1" />
<line x1="465.1055555555555" y1="329.156" x2="471.30555555555554" y2="329.156" stroke="#000" stroke-width="1.3" />
<line x1="465.1055555555555" y1="344.004" x2="471.30555555555554" y2="344.004" stroke="#000" stroke-width="1.3" />
<rect x="472.00555555555553" y="337.50800000000004" width="5.6" height="24.591999999999985" fill="#c55a11" stroke="none" stroke-width="0" />
<line x1="474.80555555555554" y1="329.156" x2="474.80555555555554" y2="344.932" stroke="#000" stroke-width="1.1" />
<line x1="471.7055555555555" y1="329.156" x2="477.90555555555557" y2="329.156" stroke="#000" stroke-width="1.3" />
<line x1="471.7055555555555" y1="344.932" x2="477.90555555555557" y2="344.932" stroke="#000" stroke-width="1.3" />
<text x="468.2055555555555" y="375.5" font-size="13" font-weight="bold" font-style="normal" text-anchor="middle" fill="#000" >3</text>
<rect x="489.3277777777777" y="353.28400000000005" width="5.6" height="8.815999999999974" fill="#1f4e79" stroke="none" stroke-width="0" />
<line x1="492.12777777777774" y1="350.5" x2="492.12777777777774" y2="355.60400000000004" stroke="#000" stroke-width="1.1" />
<line x1="489.0277777777777" y1="350.5" x2="495.22777777777776" y2="350.5" stroke="#000" stroke-width="1.3" />
<line x1="489.0277777777777" y1="355.60400000000004" x2="495.22777777777776" y2="355.60400000000004" stroke="#000" stroke-width="1.3" />
<rect x="495.92777777777775" y="353.74800000000005" width="5.6" height="8.351999999999975" fill="#2e75b6" stroke="none" stroke-width="0" />
<line x1="498.72777777777776" y1="351.428" x2="498.72777777777776" y2="356.06800000000004" stroke="#000" stroke-width="1.1" />
<line x1="495.62777777777774" y1="351.428" x2="501.8277777777778" y2="351.428" stroke="#000" stroke-width="1.3" />
<line x1="495.62777777777774" y1="356.06800000000004" x2="501.8277777777778" y2="356.06800000000004" stroke="#000" stroke-width="1.3" />
<text x="498.72777777777776" y="375.5" font-size="13" font-weight="bold" font-style="normal" text-anchor="middle" fill="#000" >4</text>
<rect x="519.85" y="280.204" width="5.6" height="81.89600000000002" fill="#1f4e79" stroke="none" stroke-width="0" />
<line x1="522.65" y1="253.06" x2="522.65" y2="306.884" stroke="#000" stroke-width="1.1" />
<line x1="519.55" y1="253.06" x2="525.75" y2="253.06" stroke="#000" stroke-width="1.3" />
<line x1="519.55" y1="306.884" x2="525.75" y2="306.884" stroke="#000" stroke-width="1.3" />
<rect x="526.45" y="273.708" width="5.6" height="88.392" fill="#2e75b6" stroke="none" stroke-width="0" />
<line x1="529.25" y1="249.812" x2="529.25" y2="297.14" stroke="#000" stroke-width="1.1" />
<line x1="526.15" y1="249.812" x2="532.35" y2="249.812" stroke="#000" stroke-width="1.3" />
<line x1="526.15" y1="297.14" x2="532.35" y2="297.14" stroke="#000" stroke-width="1.3" />
<rect x="533.0500000000001" y="347.716" width="5.6" height="14.384000000000015" fill="#c55a11" stroke="none" stroke-width="0" />
<line x1="535.85" y1="339.36400000000003" x2="535.85" y2="355.14000000000004" stroke="#000" stroke-width="1.1" />
<line x1="532.75" y1="339.36400000000003" x2="538.95" y2="339.36400000000003" stroke="#000" stroke-width="1.3" />
<line x1="532.75" y1="355.14000000000004" x2="538.95" y2="355.14000000000004" stroke="#000" stroke-width="1.3" />
<text x="529.25" y="375.5" font-size="13" font-weight="bold" font-style="normal" text-anchor="middle" fill="#000" >5</text>
<rect x="550.3722222222223" y="307.348" width="5.6" height="54.75200000000001" fill="#1f4e79" stroke="none" stroke-width="0" />
<line x1="553.1722222222222" y1="283.684" x2="553.1722222222222" y2="331.476" stroke="#000" stroke-width="1.1" />
<line x1="550.0722222222222" y1="283.684" x2="556.2722222222222" y2="283.684" stroke="#000" stroke-width="1.3" />
<line x1="550.0722222222222" y1="331.476" x2="556.2722222222222" y2="331.476" stroke="#000" stroke-width="1.3" />
<rect x="556.9722222222223" y="334.72400000000005" width="5.6" height="27.375999999999976" fill="#2e75b6" stroke="none" stroke-width="0" />
<line x1="559.7722222222222" y1="320.80400000000003" x2="559.7722222222222" y2="349.572" stroke="#000" stroke-width="1.1" />
<line x1="556.6722222222222" y1="320.80400000000003" x2="562.8722222222223" y2="320.80400000000003" stroke="#000" stroke-width="1.3" />
<line x1="556.6722222222222" y1="349.572" x2="562.8722222222223" y2="349.572" stroke="#000" stroke-width="1.3" />
<rect x="563.5722222222223" y="346.788" width="5.6" height="15.312000000000012" fill="#c55a11" stroke="none" stroke-width="0" />
<line x1="566.3722222222223" y1="341.22" x2="566.3722222222223" y2="352.356" stroke="#000" stroke-width="1.1" />
<line x1="563.2722222222222" y1="341.22" x2="569.4722222222223" y2="341.22" stroke="#000" stroke-width="1.3" />
<line x1="563.2722222222222" y1="352.356" x2="569.4722222222223" y2="352.356" stroke="#000" stroke-width="1.3" />
<text x="559.7722222222222" y="375.5" font-size="13" font-weight="bold" font-style="normal" text-anchor="middle" fill="#000" >6</text>
<rect x="580.8944444444445" y="253.29200000000003" width="5.6" height="108.80799999999999" fill="#1f4e79" stroke="none" stroke-width="0" />
<line x1="583.6944444444445" y1="235.892" x2="583.6944444444445" y2="271.156" stroke="#000" stroke-width="1.1" />
<line x1="580.5944444444444" y1="235.892" x2="586.7944444444445" y2="235.892" stroke="#000" stroke-width="1.3" />
<line x1="580.5944444444444" y1="271.156" x2="586.7944444444445" y2="271.156" stroke="#000" stroke-width="1.3" />
<rect x="587.4944444444445" y="253.06" width="5.6" height="109.04000000000002" fill="#2e75b6" stroke="none" stroke-width="0" />
<line x1="590.2944444444445" y1="224.292" x2="590.2944444444445" y2="280.9" stroke="#000" stroke-width="1.1" />
<line x1="587.1944444444445" y1="224.292" x2="593.3944444444445" y2="224.292" stroke="#000" stroke-width="1.3" />
<line x1="587.1944444444445" y1="280.9" x2="593.3944444444445" y2="280.9" stroke="#000" stroke-width="1.3" />
<rect x="594.0944444444445" y="348.644" width="5.6" height="13.456000000000017" fill="#c55a11" stroke="none" stroke-width="0" />
<line x1="596.8944444444445" y1="342.612" x2="596.8944444444445" y2="354.67600000000004" stroke="#000" stroke-width="1.1" />
<line x1="593.7944444444445" y1="342.612" x2="599.9944444444445" y2="342.612" stroke="#000" stroke-width="1.3" />
<line x1="593.7944444444445" y1="354.67600000000004" x2="599.9944444444445" y2="354.67600000000004" stroke="#000" stroke-width="1.3" />
<text x="590.2944444444445" y="375.5" font-size="13" font-weight="bold" font-style="normal" text-anchor="middle" fill="#000" >7</text>
<rect x="611.4166666666666" y="277.188" width="5.6" height="84.91200000000003" fill="#1f4e79" stroke="none" stroke-width="0" />
<line x1="614.2166666666666" y1="268.372" x2="614.2166666666666" y2="285.54" stroke="#000" stroke-width="1.1" />
<line x1="611.1166666666666" y1="268.372" x2="617.3166666666666" y2="268.372" stroke="#000" stroke-width="1.3" />
<line x1="611.1166666666666" y1="285.54" x2="617.3166666666666" y2="285.54" stroke="#000" stroke-width="1.3" />
<rect x="618.0166666666667" y="291.80400000000003" width="5.6" height="70.29599999999999" fill="#2e75b6" stroke="none" stroke-width="0" />
<line x1="620.8166666666666" y1="290.18" x2="620.8166666666666" y2="293.428" stroke="#000" stroke-width="1.1" />
<line x1="617.7166666666666" y1="290.18" x2="623.9166666666666" y2="290.18" stroke="#000" stroke-width="1.3" />
<line x1="617.7166666666666" y1="293.428" x2="623.9166666666666" y2="293.428" stroke="#000" stroke-width="1.3" />
<rect x="624.6166666666667" y="338.204" width="5.6" height="23.896000000000015" fill="#c55a11" stroke="none" stroke-width="0" />
<line x1="627.4166666666666" y1="336.58000000000004" x2="627.4166666666666" y2="339.36400000000003" stroke="#000" stroke-width="1.1" />
<line x1="624.3166666666666" y1="336.58000000000004" x2="630.5166666666667" y2="336.58000000000004" stroke="#000" stroke-width="1.3" />
<line x1="624.3166666666666" y1="339.36400000000003" x2="630.5166666666667" y2="339.36400000000003" stroke="#000" stroke-width="1.3" />
<text x="620.8166666666666" y="375.5" font-size="13" font-weight="bold" font-style="normal" text-anchor="middle" fill="#000" >8</text>
<rect x="641.938888888889" y="329.62" width="5.6" height="32.48000000000002" fill="#1f4e79" stroke="none" stroke-width="0" />
<line x1="644.7388888888889" y1="328.228" x2="644.7388888888889" y2="331.012" stroke="#000" stroke-width="1.1" />
<line x1="641.6388888888889" y1="328.228" x2="647.838888888889" y2="328.228" stroke="#000" stroke-width="1.3" />
<line x1="641.6388888888889" y1="331.012" x2="647.838888888889" y2="331.012" stroke="#000" stroke-width="1.3" />
<rect x="648.538888888889" y="327.53200000000004" width="5.6" height="34.567999999999984" fill="#2e75b6" stroke="none" stroke-width="0" />
<line x1="651.338888888889" y1="324.516" x2="651.338888888889" y2="330.548" stroke="#000" stroke-width="1.1" />
<line x1="648.2388888888889" y1="324.516" x2="654.438888888889" y2="324.516" stroke="#000" stroke-width="1.3" />
<line x1="648.2388888888889" y1="330.548" x2="654.438888888889" y2="330.548" stroke="#000" stroke-width="1.3" />
<text x="651.338888888889" y="375.5" font-size="13" font-weight="bold" font-style="normal" text-anchor="middle" fill="#000" >9</text>
<text x="396.5" y="217.5" font-size="9.9" font-weight="normal" font-style="normal" text-anchor="middle" fill="#111" >69</text>
<text x="408" y="220.4" font-size="9.9" font-weight="normal" font-style="normal" text-anchor="middle" fill="#111" >65</text>
<path d="M394.1 235.6 q2.3 -4.5 4.7 0 t4.7 0 t4.7 0 t4.7 0" fill="none" stroke="#000" stroke-width="3.6"/>
<path d="M394.1 235.6 q2.3 -4.5 4.7 0 t4.7 0 t4.7 0 t4.7 0" fill="none" stroke="#fff" stroke-width="1.4"/>
<rect x="420.6" y="230.5" width="8.4" height="8.1" fill="#1f4e79" stroke="none" stroke-width="0" />
<text transform="translate(434.3,238.6) scale(1.045,1)" x="0" y="0" font-size="11.3" font-weight="normal" font-style="normal" text-anchor="start" fill="#111" >Total <tspan font-style="italic">xyr1</tspan></text>
<rect x="420.6" y="244.1" width="8.4" height="8.1" fill="#2e75b6" stroke="none" stroke-width="0" />
<text transform="translate(434.3,252.2) scale(1.045,1)" x="0" y="0" font-size="11.3" font-weight="normal" font-style="normal" text-anchor="start" fill="#111" >WT specific</text>
<rect x="420.6" y="257.7" width="8.4" height="8.1" fill="#c55a11" stroke="none" stroke-width="0" />
<text transform="translate(434.3,265.8) scale(1.045,1)" x="0" y="0" font-size="11.3" font-weight="normal" font-style="normal" text-anchor="start" fill="#111" >V821F or A824V specific</text>
<text x="652.9" y="244.7" font-size="15" font-weight="bold" font-style="italic" text-anchor="end" fill="#000" >xyr1</text>
<path d="M391.9 362.1 H666.6 V222.9 H391.9 Z" fill="none" stroke="#222" stroke-width="1.4"/>
<text x="349" y="387.5" font-size="19" font-weight="bold" font-style="normal" text-anchor="start" fill="#000" >e</text>
<text x="381" y="533.8" font-size="13.8" font-weight="normal" font-style="normal" text-anchor="end" fill="#111" >0</text>
<line x1="391.1" y1="483.23333333333335" x2="667.6" y2="483.23333333333335" stroke="#d9d9d9" stroke-width="1.3" />
<text x="381" y="487.53333333333336" font-size="13.8" font-weight="normal" font-style="normal" text-anchor="end" fill="#111" >5</text>
<line x1="391.1" y1="436.9666666666667" x2="667.6" y2="436.9666666666667" stroke="#d9d9d9" stroke-width="1.3" />
<text x="381" y="441.2666666666667" font-size="13.8" font-weight="normal" font-style="normal" text-anchor="end" fill="#111" >10</text>
<text x="381" y="395.0" font-size="13.8" font-weight="normal" font-style="normal" text-anchor="end" fill="#111" >15</text>
<text x="0" y="0" font-size="15.5" font-weight="bold" font-style="normal" text-anchor="middle" fill="#000" transform="translate(371.1,461.6) rotate(-90)">(-)</text>
<rect x="397.0611111111111" y="390.7" width="5.6" height="138.8" fill="#255e91" stroke="none" stroke-width="0" />
<rect x="403.6611111111111" y="390.7" width="5.6" height="138.8" fill="#c00030" stroke="none" stroke-width="0" />
<rect x="410.2611111111111" y="509.6053333333333" width="5.6" height="19.894666666666694" fill="#70ad47" stroke="none" stroke-width="0" />
<line x1="413.06111111111113" y1="505.4413333333333" x2="413.06111111111113" y2="513.7693333333333" stroke="#000" stroke-width="1.1" />
<line x1="409.9611111111111" y1="505.4413333333333" x2="416.16111111111115" y2="505.4413333333333" stroke="#000" stroke-width="1.3" />
<line x1="409.9611111111111" y1="513.7693333333333" x2="416.16111111111115" y2="513.7693333333333" stroke="#000" stroke-width="1.3" />
<text x="406.4611111111111" y="546" font-size="13" font-weight="bold" font-style="normal" text-anchor="middle" fill="#000" >1</text>
<rect x="427.7833333333333" y="519.5989333333333" width="5.6" height="9.90106666666668" fill="#255e91" stroke="none" stroke-width="0" />
<line x1="430.5833333333333" y1="517.4706666666667" x2="430.5833333333333" y2="521.6346666666667" stroke="#000" stroke-width="1.1" />
<line x1="427.4833333333333" y1="517.4706666666667" x2="433.68333333333334" y2="517.4706666666667" stroke="#000" stroke-width="1.3" />
<line x1="427.4833333333333" y1="521.6346666666667" x2="433.68333333333334" y2="521.6346666666667" stroke="#000" stroke-width="1.3" />
<rect x="434.3833333333333" y="528.2970666666666" width="5.6" height="1.2029333333333625" fill="#c00030" stroke="none" stroke-width="0" />
<rect x="440.98333333333335" y="525.7986666666667" width="5.6" height="3.7013333333333094" fill="#70ad47" stroke="none" stroke-width="0" />
<line x1="443.78333333333336" y1="525.1509333333333" x2="443.78333333333336" y2="526.2613333333334" stroke="#000" stroke-width="1.1" />
<line x1="440.68333333333334" y1="525.1509333333333" x2="446.8833333333334" y2="525.1509333333333" stroke="#000" stroke-width="1.3" />
<line x1="440.68333333333334" y1="526.2613333333334" x2="446.8833333333334" y2="526.2613333333334" stroke="#000" stroke-width="1.3" />
<text x="437.18333333333334" y="546" font-size="13" font-weight="bold" font-style="normal" text-anchor="middle" fill="#000" >2</text>
<rect x="458.50555555555553" y="465.1893333333333" width="5.6" height="64.31066666666669" fill="#255e91" stroke="none" stroke-width="0" />
<line x1="461.30555555555554" y1="460.1" x2="461.30555555555554" y2="469.35333333333335" stroke="#000" stroke-width="1.1" />
<line x1="458.2055555555555" y1="460.1" x2="464.40555555555557" y2="460.1" stroke="#000" stroke-width="1.3" />
<line x1="458.2055555555555" y1="469.35333333333335" x2="464.40555555555557" y2="469.35333333333335" stroke="#000" stroke-width="1.3" />
<rect x="465.10555555555555" y="511.9186666666667" width="5.6" height="17.581333333333305" fill="#c00030" stroke="none" stroke-width="0" />
<line x1="467.90555555555557" y1="508.21733333333333" x2="467.90555555555557" y2="515.1573333333333" stroke="#000" stroke-width="1.1" />
<line x1="464.80555555555554" y1="508.21733333333333" x2="471.0055555555556" y2="508.21733333333333" stroke="#000" stroke-width="1.3" />
<line x1="464.80555555555554" y1="515.1573333333333" x2="471.0055555555556" y2="515.1573333333333" stroke="#000" stroke-width="1.3" />
<rect x="471.7055555555556" y="501.74" width="5.6" height="27.75999999999999" fill="#70ad47" stroke="none" stroke-width="0" />
<line x1="474.5055555555556" y1="498.964" x2="474.5055555555556" y2="504.516" stroke="#000" stroke-width="1.1" />
<line x1="471.40555555555557" y1="498.964" x2="477.6055555555556" y2="498.964" stroke="#000" stroke-width="1.3" />
<line x1="471.40555555555557" y1="504.516" x2="477.6055555555556" y2="504.516" stroke="#000" stroke-width="1.3" />
<text x="467.90555555555557" y="546" font-size="13" font-weight="bold" font-style="normal" text-anchor="middle" fill="#000" >3</text>
<rect x="489.22777777777776" y="474.44266666666664" width="5.6" height="55.05733333333336" fill="#255e91" stroke="none" stroke-width="0" />
<line x1="492.02777777777777" y1="473.05466666666666" x2="492.02777777777777" y2="475.8306666666667" stroke="#000" stroke-width="1.1" />
<line x1="488.92777777777775" y1="473.05466666666666" x2="495.1277777777778" y2="473.05466666666666" stroke="#000" stroke-width="1.3" />
<line x1="488.92777777777775" y1="475.8306666666667" x2="495.1277777777778" y2="475.8306666666667" stroke="#000" stroke-width="1.3" />
<rect x="495.8277777777778" y="475.8306666666667" width="5.6" height="53.66933333333333" fill="#c00030" stroke="none" stroke-width="0" />
<line x1="498.6277777777778" y1="469.35333333333335" x2="498.6277777777778" y2="483.23333333333335" stroke="#000" stroke-width="1.1" />
<line x1="495.52777777777777" y1="469.35333333333335" x2="501.7277777777778" y2="469.35333333333335" stroke="#000" stroke-width="1.3" />
<line x1="495.52777777777777" y1="483.23333333333335" x2="501.7277777777778" y2="483.23333333333335" stroke="#000" stroke-width="1.3" />
<rect x="502.4277777777778" y="521.172" width="5.6" height="8.327999999999975" fill="#70ad47" stroke="none" stroke-width="0" />
<line x1="505.2277777777778" y1="519.3213333333333" x2="505.2277777777778" y2="523.0226666666666" stroke="#000" stroke-width="1.1" />
<line x1="502.1277777777778" y1="519.3213333333333" x2="508.32777777777784" y2="519.3213333333333" stroke="#000" stroke-width="1.3" />
<line x1="502.1277777777778" y1="523.0226666666666" x2="508.32777777777784" y2="523.0226666666666" stroke="#000" stroke-width="1.3" />
<text x="498.6277777777778" y="546" font-size="13" font-weight="bold" font-style="normal" text-anchor="middle" fill="#000" >4</text>
<rect x="519.95" y="437.24426666666665" width="5.6" height="92.25573333333335" fill="#255e91" stroke="none" stroke-width="0" />
<line x1="522.75" y1="432.34" x2="522.75" y2="441.96346666666665" stroke="#000" stroke-width="1.1" />
<line x1="519.65" y1="432.34" x2="525.85" y2="432.34" stroke="#000" stroke-width="1.3" />
<line x1="519.65" y1="441.96346666666665" x2="525.85" y2="441.96346666666665" stroke="#000" stroke-width="1.3" />
<rect x="526.5500000000001" y="469.9085333333333" width="5.6" height="59.59146666666669" fill="#c00030" stroke="none" stroke-width="0" />
<line x1="529.35" y1="457.324" x2="529.35" y2="482.308" stroke="#000" stroke-width="1.1" />
<line x1="526.25" y1="457.324" x2="532.45" y2="457.324" stroke="#000" stroke-width="1.3" />
<line x1="526.25" y1="482.308" x2="532.45" y2="482.308" stroke="#000" stroke-width="1.3" />
<rect x="533.1500000000001" y="522.3749333333334" width="5.6" height="7.125066666666612" fill="#70ad47" stroke="none" stroke-width="0" />
<line x1="535.95" y1="518.6736" x2="535.95" y2="525.4285333333333" stroke="#000" stroke-width="1.1" />
<line x1="532.85" y1="518.6736" x2="539.0500000000001" y2="518.6736" stroke="#000" stroke-width="1.3" />
<line x1="532.85" y1="525.4285333333333" x2="539.0500000000001" y2="525.4285333333333" stroke="#000" stroke-width="1.3" />
<text x="529.35" y="546" font-size="13" font-weight="bold" font-style="normal" text-anchor="middle" fill="#000" >5</text>
<rect x="550.6722222222223" y="439.0949333333333" width="5.6" height="90.4050666666667" fill="#255e91" stroke="none" stroke-width="0" />
<line x1="553.4722222222223" y1="433.26533333333333" x2="553.4722222222223" y2="444.73946666666666" stroke="#000" stroke-width="1.1" />
<line x1="550.3722222222223" y1="433.26533333333333" x2="556.5722222222223" y2="433.26533333333333" stroke="#000" stroke-width="1.3" />
<line x1="550.3722222222223" y1="444.73946666666666" x2="556.5722222222223" y2="444.73946666666666" stroke="#000" stroke-width="1.3" />
<rect x="557.2722222222224" y="517.6557333333334" width="5.6" height="11.844266666666613" fill="#c00030" stroke="none" stroke-width="0" />
<line x1="560.0722222222223" y1="513.7693333333333" x2="560.0722222222223" y2="521.4496" stroke="#000" stroke-width="1.1" />
<line x1="556.9722222222223" y1="513.7693333333333" x2="563.1722222222223" y2="513.7693333333333" stroke="#000" stroke-width="1.3" />
<line x1="556.9722222222223" y1="521.4496" x2="563.1722222222223" y2="521.4496" stroke="#000" stroke-width="1.3" />
<rect x="563.8722222222224" y="487.86" width="5.6" height="41.639999999999986" fill="#70ad47" stroke="none" stroke-width="0" />
<line x1="566.6722222222223" y1="477.95893333333333" x2="566.6722222222223" y2="497.4834666666667" stroke="#000" stroke-width="1.1" />
<line x1="563.5722222222223" y1="477.95893333333333" x2="569.7722222222224" y2="477.95893333333333" stroke="#000" stroke-width="1.3" />
<line x1="563.5722222222223" y1="497.4834666666667" x2="569.7722222222224" y2="497.4834666666667" stroke="#000" stroke-width="1.3" />
<text x="560.0722222222223" y="546" font-size="13" font-weight="bold" font-style="normal" text-anchor="middle" fill="#000" >6</text>
<rect x="581.3944444444445" y="429.84159999999997" width="5.6" height="99.65840000000003" fill="#255e91" stroke="none" stroke-width="0" />
<line x1="584.1944444444445" y1="411.98266666666666" x2="584.1944444444445" y2="448.0706666666666" stroke="#000" stroke-width="1.1" />
<line x1="581.0944444444444" y1="411.98266666666666" x2="587.2944444444445" y2="411.98266666666666" stroke="#000" stroke-width="1.3" />
<line x1="581.0944444444444" y1="448.0706666666666" x2="587.2944444444445" y2="448.0706666666666" stroke="#000" stroke-width="1.3" />
<rect x="587.9944444444445" y="450.8466666666667" width="5.6" height="78.65333333333331" fill="#c00030" stroke="none" stroke-width="0" />
<line x1="590.7944444444445" y1="438.1696" x2="590.7944444444445" y2="462.876" stroke="#000" stroke-width="1.1" />
<line x1="587.6944444444445" y1="438.1696" x2="593.8944444444445" y2="438.1696" stroke="#000" stroke-width="1.3" />
<line x1="587.6944444444445" y1="462.876" x2="593.8944444444445" y2="462.876" stroke="#000" stroke-width="1.3" />
<rect x="594.5944444444445" y="519.5989333333333" width="5.6" height="9.90106666666668" fill="#70ad47" stroke="none" stroke-width="0" />
<line x1="597.3944444444445" y1="518.9512" x2="597.3944444444445" y2="520.2466666666667" stroke="#000" stroke-width="1.1" />
<line x1="594.2944444444445" y1="518.9512" x2="600.4944444444445" y2="518.9512" stroke="#000" stroke-width="1.3" />
<line x1="594.2944444444445" y1="520.2466666666667" x2="600.4944444444445" y2="520.2466666666667" stroke="#000" stroke-width="1.3" />
<text x="590.7944444444445" y="546" font-size="13" font-weight="bold" font-style="normal" text-anchor="middle" fill="#000" >7</text>
<rect x="612.1166666666667" y="471.204" width="5.6" height="58.29599999999999" fill="#255e91" stroke="none" stroke-width="0" />
<line x1="614.9166666666666" y1="464.91173333333336" x2="614.9166666666666" y2="476.3858666666667" stroke="#000" stroke-width="1.1" />
<line x1="611.8166666666666" y1="464.91173333333336" x2="618.0166666666667" y2="464.91173333333336" stroke="#000" stroke-width="1.3" />
<line x1="611.8166666666666" y1="476.3858666666667" x2="618.0166666666667" y2="476.3858666666667" stroke="#000" stroke-width="1.3" />
<rect x="618.7166666666667" y="482.0304" width="5.6" height="47.469600000000014" fill="#c00030" stroke="none" stroke-width="0" />
<line x1="621.5166666666667" y1="461.9506666666667" x2="621.5166666666667" y2="501.74" stroke="#000" stroke-width="1.1" />
<line x1="618.4166666666666" y1="461.9506666666667" x2="624.6166666666667" y2="461.9506666666667" stroke="#000" stroke-width="1.3" />
<line x1="618.4166666666666" y1="501.74" x2="624.6166666666667" y2="501.74" stroke="#000" stroke-width="1.3" />
<rect x="625.3166666666667" y="523.3002666666666" width="5.6" height="6.19973333333337" fill="#70ad47" stroke="none" stroke-width="0" />
<line x1="628.1166666666667" y1="522.0973333333334" x2="628.1166666666667" y2="524.5032" stroke="#000" stroke-width="1.1" />
<line x1="625.0166666666667" y1="522.0973333333334" x2="631.2166666666667" y2="522.0973333333334" stroke="#000" stroke-width="1.3" />
<line x1="625.0166666666667" y1="524.5032" x2="631.2166666666667" y2="524.5032" stroke="#000" stroke-width="1.3" />
<text x="621.5166666666667" y="546" font-size="13" font-weight="bold" font-style="normal" text-anchor="middle" fill="#000" >8</text>
<rect x="642.8388888888888" y="491.2837333333333" width="5.6" height="38.216266666666684" fill="#255e91" stroke="none" stroke-width="0" />
<line x1="645.6388888888888" y1="490.3584" x2="645.6388888888888" y2="492.4866666666667" stroke="#000" stroke-width="1.1" />
<line x1="642.5388888888888" y1="490.3584" x2="648.7388888888888" y2="490.3584" stroke="#000" stroke-width="1.3" />
<line x1="642.5388888888888" y1="492.4866666666667" x2="648.7388888888888" y2="492.4866666666667" stroke="#000" stroke-width="1.3" />
<rect x="649.4388888888889" y="498.1312" width="5.6" height="31.36880000000002" fill="#c00030" stroke="none" stroke-width="0" />
<line x1="652.2388888888888" y1="484.8064" x2="652.2388888888888" y2="511.456" stroke="#000" stroke-width="1.1" />
<line x1="649.1388888888888" y1="484.8064" x2="655.3388888888888" y2="484.8064" stroke="#000" stroke-width="1.3" />
<line x1="649.1388888888888" y1="511.456" x2="655.3388888888888" y2="511.456" stroke="#000" stroke-width="1.3" />
<rect x="656.0388888888889" y="525.1509333333333" width="5.6" height="4.349066666666658" fill="#70ad47" stroke="none" stroke-width="0" />
<line x1="658.8388888888888" y1="523.3002666666666" x2="658.8388888888888" y2="526.3538666666667" stroke="#000" stroke-width="1.1" />
<line x1="655.7388888888888" y1="523.3002666666666" x2="661.9388888888889" y2="523.3002666666666" stroke="#000" stroke-width="1.3" />
<line x1="655.7388888888888" y1="526.3538666666667" x2="661.9388888888889" y2="526.3538666666667" stroke="#000" stroke-width="1.3" />
<text x="652.2388888888888" y="546" font-size="13" font-weight="bold" font-style="normal" text-anchor="middle" fill="#000" >9</text>
<text x="396.3" y="386.6" font-size="9.9" font-weight="normal" font-style="normal" text-anchor="middle" fill="#111" >23</text>
<text x="408" y="389.4" font-size="9.9" font-weight="normal" font-style="normal" text-anchor="middle" fill="#111" >20</text>
<path d="M394 408.3 q2.3 -4.5 4.7 0 t4.7 0 t4.7 0 t4.7 0" fill="none" stroke="#000" stroke-width="3.6"/>
<path d="M394 408.3 q2.3 -4.5 4.7 0 t4.7 0 t4.7 0 t4.7 0" fill="none" stroke="#fff" stroke-width="1.4"/>
<rect x="418.2" y="396.1" width="8.6" height="8.2" fill="#255e91" stroke="none" stroke-width="0" />
<text transform="translate(431.9,404.20000000000005) scale(1.045,1)" x="0" y="0" font-size="11.3" font-weight="normal" font-style="normal" text-anchor="start" fill="#111" >Total <tspan font-style="italic">ace3</tspan></text>
<rect x="418.2" y="409.5" width="8.6" height="8.2" fill="#c00030" stroke="none" stroke-width="0" />
<text transform="translate(431.9,417.6) scale(1.045,1)" x="0" y="0" font-size="11.3" font-weight="normal" font-style="normal" text-anchor="start" fill="#111" >PT-<tspan font-style="italic">ace3</tspan> specific</text>
<rect x="418.2" y="422.90000000000003" width="8.6" height="8.2" fill="#70ad47" stroke="none" stroke-width="0" />
<text transform="translate(431.9,431.00000000000006) scale(1.045,1)" x="0" y="0" font-size="11.3" font-weight="normal" font-style="normal" text-anchor="start" fill="#111" >FL-<tspan font-style="italic">ace3</tspan> specific</text>
<text x="654.3" y="413.5" font-size="15" font-weight="bold" font-style="italic" text-anchor="end" fill="#000" >ace3</text>
<path d="M391.1 529.5 H667.6 V390.7 H391.1 Z" fill="none" stroke="#222" stroke-width="1.4"/>
</svg>
</body></html>
